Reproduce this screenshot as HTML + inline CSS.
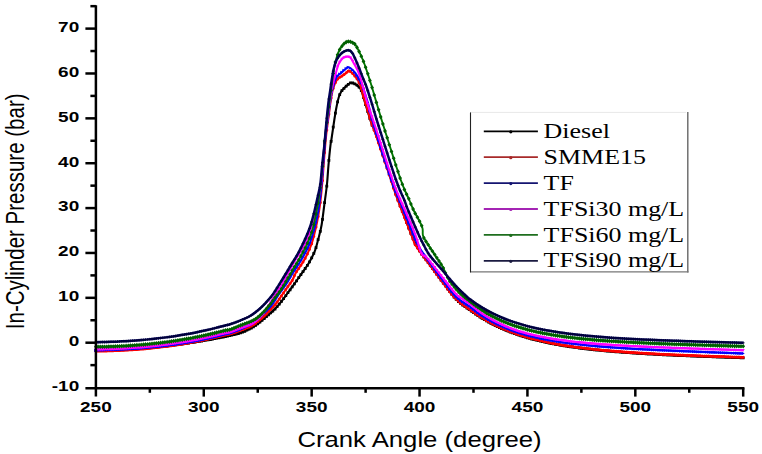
<!DOCTYPE html>
<html><head><meta charset="utf-8"><style>
html,body{margin:0;padding:0;background:#fff;}
body{width:762px;height:454px;overflow:hidden;position:relative;}
svg{position:absolute;left:0;top:0;}
</style></head><body>
<svg width="762" height="454" viewBox="0 0 762 454">
<rect width="762" height="454" fill="#fff"/>
<path d="M96.00,350.47 C97.67,350.44 102.67,350.38 106.00,350.29 C109.33,350.21 112.67,350.10 116.00,349.97 C119.33,349.83 122.67,349.67 126.00,349.49 C129.33,349.31 132.67,349.10 136.00,348.87 C139.33,348.63 142.67,348.38 146.00,348.09 C149.33,347.81 152.67,347.50 156.00,347.17 C159.33,346.83 162.67,346.47 166.00,346.09 C169.33,345.70 172.67,345.29 176.00,344.86 C179.33,344.42 182.67,343.96 186.00,343.47 C189.33,342.98 192.67,342.47 196.00,341.93 C199.33,341.39 202.67,340.83 206.00,340.23 C209.33,339.64 212.83,338.99 216.00,338.38 C219.17,337.77 221.00,337.47 225.00,336.58 C229.00,335.68 236.03,334.21 240.00,333.00 C243.97,331.79 245.87,330.80 248.80,329.30 C251.73,327.80 254.67,326.12 257.60,324.00 C260.53,321.88 263.47,319.13 266.40,316.60 C269.33,314.07 272.70,311.32 275.20,308.80 C277.70,306.28 279.43,303.97 281.40,301.50 C283.37,299.03 284.90,296.85 287.00,294.00 C289.10,291.15 291.80,287.47 294.00,284.40 C296.20,281.33 298.43,278.10 300.20,275.60 C301.97,273.10 303.03,271.72 304.60,269.40 C306.17,267.08 307.87,264.83 309.60,261.70 C311.33,258.57 313.52,254.52 315.00,250.60 C316.48,246.68 317.40,242.47 318.50,238.20 C319.60,233.93 320.63,230.53 321.60,225.00 C322.57,219.47 323.42,211.67 324.30,205.00 C325.18,198.33 326.20,191.67 326.90,185.00 C327.60,178.33 327.90,171.67 328.50,165.00 C329.10,158.33 330.00,149.33 330.50,145.00 C331.00,140.67 330.87,143.17 331.50,139.00 C332.13,134.83 333.47,125.33 334.30,120.00 C335.13,114.67 335.77,110.75 336.50,107.00 C337.23,103.25 337.90,100.08 338.70,97.50 C339.50,94.92 340.30,93.15 341.30,91.50 C342.30,89.85 343.58,88.75 344.70,87.60 C345.82,86.45 346.88,85.40 348.00,84.60 C349.12,83.80 349.95,82.73 351.40,82.80 C352.85,82.87 355.23,84.05 356.70,85.00 C358.17,85.95 359.28,87.17 360.20,88.50 C361.12,89.83 361.48,90.92 362.20,93.00 C362.92,95.08 362.95,95.92 364.50,101.00 C366.05,106.08 369.67,118.17 371.50,123.50 C373.33,128.83 372.37,124.08 375.50,133.00 C378.63,141.92 386.63,166.08 390.30,177.00 C393.97,187.92 393.72,188.25 397.50,198.50 C401.28,208.75 409.37,229.83 413.00,238.50 C416.63,247.17 417.22,247.08 419.30,250.50 C421.38,253.92 422.30,254.67 425.50,259.00 C428.70,263.33 434.12,270.62 438.50,276.50 C442.88,282.38 448.22,289.90 451.80,294.30 C455.38,298.70 456.97,300.27 460.00,302.90 C463.03,305.53 466.83,307.86 470.00,310.11 C473.17,312.36 476.00,314.45 479.00,316.39 C482.00,318.34 485.00,320.11 488.00,321.78 C491.00,323.45 494.00,324.98 497.00,326.41 C500.00,327.84 503.00,329.15 506.00,330.39 C509.00,331.62 512.00,332.75 515.00,333.81 C518.00,334.88 521.00,335.85 524.00,336.77 C527.00,337.68 530.00,338.52 533.00,339.32 C536.00,340.11 539.00,340.84 542.00,341.53 C545.00,342.21 548.00,342.85 551.00,343.44 C554.00,344.04 557.00,344.59 560.00,345.11 C563.00,345.63 566.00,346.11 569.00,346.57 C572.00,347.02 575.00,347.44 578.00,347.84 C581.00,348.24 584.00,348.61 587.00,348.97 C590.00,349.32 593.00,349.65 596.00,349.96 C599.00,350.27 602.00,350.56 605.00,350.84 C608.00,351.11 611.00,351.37 614.00,351.62 C617.00,351.87 620.00,352.10 623.00,352.32 C626.00,352.55 629.00,352.76 632.00,352.96 C635.00,353.16 638.00,353.35 641.00,353.53 C644.00,353.71 647.00,353.89 650.00,354.06 C653.00,354.22 656.00,354.38 659.00,354.54 C662.00,354.69 665.00,354.84 668.00,354.98 C671.00,355.13 674.00,355.26 677.00,355.40 C680.00,355.53 683.00,355.66 686.00,355.79 C689.00,355.91 692.00,356.03 695.00,356.15 C698.00,356.27 701.00,356.38 704.00,356.50 C707.00,356.61 710.00,356.72 713.00,356.83 C716.00,356.93 719.00,357.04 722.00,357.14 C725.00,357.25 728.00,357.35 731.00,357.45 C734.00,357.55 737.97,357.67 740.00,357.74 C742.03,357.81 742.67,357.83 743.20,357.84" fill="none" stroke="#000000" stroke-width="2.10" stroke-linejoin="round" stroke-linecap="butt"/>
<path d="M94.5,349.1h2.8v2.8h-2.8zM96.7,349.0h2.8v2.8h-2.8zM98.8,349.0h2.8v2.8h-2.8zM101.0,349.0h2.8v2.8h-2.8zM103.1,348.9h2.8v2.8h-2.8zM105.3,348.9h2.8v2.8h-2.8zM107.4,348.8h2.8v2.8h-2.8zM109.6,348.7h2.8v2.8h-2.8zM111.8,348.7h2.8v2.8h-2.8zM113.9,348.6h2.8v2.8h-2.8zM116.1,348.5h2.8v2.8h-2.8zM118.2,348.4h2.8v2.8h-2.8zM120.4,348.3h2.8v2.8h-2.8zM122.5,348.2h2.8v2.8h-2.8zM124.7,348.1h2.8v2.8h-2.8zM126.9,348.0h2.8v2.8h-2.8zM129.0,347.8h2.8v2.8h-2.8zM131.2,347.7h2.8v2.8h-2.8zM133.3,347.6h2.8v2.8h-2.8zM135.5,347.4h2.8v2.8h-2.8zM137.7,347.2h2.8v2.8h-2.8zM139.8,347.1h2.8v2.8h-2.8zM142.0,346.9h2.8v2.8h-2.8zM144.1,346.7h2.8v2.8h-2.8zM146.3,346.5h2.8v2.8h-2.8zM148.4,346.4h2.8v2.8h-2.8zM150.6,346.2h2.8v2.8h-2.8zM152.8,345.9h2.8v2.8h-2.8zM154.9,345.7h2.8v2.8h-2.8zM157.1,345.5h2.8v2.8h-2.8zM159.2,345.3h2.8v2.8h-2.8zM161.4,345.1h2.8v2.8h-2.8zM163.5,344.8h2.8v2.8h-2.8zM165.7,344.6h2.8v2.8h-2.8zM167.9,344.3h2.8v2.8h-2.8zM170.0,344.0h2.8v2.8h-2.8zM172.2,343.8h2.8v2.8h-2.8zM174.3,343.5h2.8v2.8h-2.8zM176.5,343.2h2.8v2.8h-2.8zM178.6,342.9h2.8v2.8h-2.8zM180.8,342.6h2.8v2.8h-2.8zM183.0,342.3h2.8v2.8h-2.8zM185.1,342.0h2.8v2.8h-2.8zM187.3,341.7h2.8v2.8h-2.8zM189.4,341.3h2.8v2.8h-2.8zM191.6,341.0h2.8v2.8h-2.8zM193.8,340.7h2.8v2.8h-2.8zM195.9,340.3h2.8v2.8h-2.8zM198.1,340.0h2.8v2.8h-2.8zM200.2,339.6h2.8v2.8h-2.8zM202.4,339.2h2.8v2.8h-2.8zM204.5,338.8h2.8v2.8h-2.8zM206.7,338.5h2.8v2.8h-2.8zM208.9,338.1h2.8v2.8h-2.8zM211.0,337.7h2.8v2.8h-2.8zM213.2,337.3h2.8v2.8h-2.8zM215.3,336.8h2.8v2.8h-2.8zM217.5,336.4h2.8v2.8h-2.8zM219.6,336.0h2.8v2.8h-2.8zM221.8,335.6h2.8v2.8h-2.8zM224.0,335.1h2.8v2.8h-2.8zM226.1,334.6h2.8v2.8h-2.8zM228.3,334.1h2.8v2.8h-2.8zM230.4,333.7h2.8v2.8h-2.8zM232.6,333.2h2.8v2.8h-2.8zM234.7,332.6h2.8v2.8h-2.8zM236.9,332.1h2.8v2.8h-2.8zM239.1,331.5h2.8v2.8h-2.8zM241.2,330.7h2.8v2.8h-2.8zM243.4,329.9h2.8v2.8h-2.8zM245.5,328.8h2.8v2.8h-2.8zM247.7,327.7h2.8v2.8h-2.8zM249.9,326.6h2.8v2.8h-2.8zM252.0,325.4h2.8v2.8h-2.8zM254.2,324.0h2.8v2.8h-2.8zM256.3,322.5h2.8v2.8h-2.8zM258.5,320.8h2.8v2.8h-2.8zM260.6,319.0h2.8v2.8h-2.8zM262.8,317.1h2.8v2.8h-2.8zM265.0,315.2h2.8v2.8h-2.8zM267.1,313.4h2.8v2.8h-2.8zM269.3,311.5h2.8v2.8h-2.8zM271.4,309.6h2.8v2.8h-2.8zM273.6,307.6h2.8v2.8h-2.8zM275.7,305.3h2.8v2.8h-2.8zM277.9,302.7h2.8v2.8h-2.8zM280.1,300.0h2.8v2.8h-2.8zM282.2,297.2h2.8v2.8h-2.8zM284.4,294.3h2.8v2.8h-2.8zM286.5,291.3h2.8v2.8h-2.8zM288.7,288.4h2.8v2.8h-2.8zM290.8,285.4h2.8v2.8h-2.8zM293.0,282.4h2.8v2.8h-2.8zM295.2,279.4h2.8v2.8h-2.8zM297.3,276.3h2.8v2.8h-2.8zM299.5,273.2h2.8v2.8h-2.8zM301.6,270.2h2.8v2.8h-2.8zM303.8,267.1h2.8v2.8h-2.8zM306.0,264.0h2.8v2.8h-2.8zM308.1,260.5h2.8v2.8h-2.8zM310.3,256.5h2.8v2.8h-2.8zM312.4,252.0h2.8v2.8h-2.8zM314.6,246.3h2.8v2.8h-2.8zM316.7,238.2h2.8v2.8h-2.8zM318.9,229.9h2.8v2.8h-2.8zM321.1,218.0h2.8v2.8h-2.8zM323.2,201.3h2.8v2.8h-2.8zM325.4,184.8h2.8v2.8h-2.8zM327.5,159.0h2.8v2.8h-2.8zM329.7,140.0h2.8v2.8h-2.8zM331.8,125.7h2.8v2.8h-2.8zM334.0,111.7h2.8v2.8h-2.8zM336.2,100.5h2.8v2.8h-2.8zM338.3,93.2h2.8v2.8h-2.8zM340.5,89.2h2.8v2.8h-2.8zM342.6,86.9h2.8v2.8h-2.8zM344.8,84.7h2.8v2.8h-2.8zM346.9,82.9h2.8v2.8h-2.8zM349.1,81.5h2.8v2.8h-2.8zM351.3,81.6h2.8v2.8h-2.8zM353.4,82.5h2.8v2.8h-2.8zM355.6,83.8h2.8v2.8h-2.8zM357.7,85.7h2.8v2.8h-2.8zM359.9,89.1h2.8v2.8h-2.8zM362.1,96.0h2.8v2.8h-2.8zM364.2,103.3h2.8v2.8h-2.8zM366.4,110.3h2.8v2.8h-2.8zM368.5,117.3h2.8v2.8h-2.8zM370.7,123.7h2.8v2.8h-2.8zM372.8,128.2h2.8v2.8h-2.8zM375.0,134.2h2.8v2.8h-2.8zM377.2,140.5h2.8v2.8h-2.8zM379.3,146.9h2.8v2.8h-2.8zM381.5,153.4h2.8v2.8h-2.8zM383.6,159.8h2.8v2.8h-2.8zM385.8,166.3h2.8v2.8h-2.8zM387.9,172.7h2.8v2.8h-2.8zM390.1,179.2h2.8v2.8h-2.8zM392.3,186.0h2.8v2.8h-2.8zM394.4,192.4h2.8v2.8h-2.8zM396.6,198.4h2.8v2.8h-2.8zM398.7,204.1h2.8v2.8h-2.8zM400.9,209.8h2.8v2.8h-2.8zM403.0,215.5h2.8v2.8h-2.8zM405.2,221.0h2.8v2.8h-2.8zM407.4,226.6h2.8v2.8h-2.8zM409.5,232.0h2.8v2.8h-2.8zM411.7,237.3h2.8v2.8h-2.8zM413.8,242.2h2.8v2.8h-2.8zM416.0,246.2h2.8v2.8h-2.8zM418.2,249.5h2.8v2.8h-2.8zM420.3,252.6h2.8v2.8h-2.8zM422.5,255.4h2.8v2.8h-2.8zM424.6,258.3h2.8v2.8h-2.8zM426.8,261.2h2.8v2.8h-2.8zM428.9,264.1h2.8v2.8h-2.8zM431.1,267.0h2.8v2.8h-2.8zM433.3,269.9h2.8v2.8h-2.8zM435.4,272.8h2.8v2.8h-2.8zM437.6,275.7h2.8v2.8h-2.8zM439.7,278.7h2.8v2.8h-2.8zM441.9,281.6h2.8v2.8h-2.8zM444.0,284.5h2.8v2.8h-2.8zM446.2,287.5h2.8v2.8h-2.8zM448.4,290.3h2.8v2.8h-2.8zM450.5,293.0h2.8v2.8h-2.8zM452.7,295.6h2.8v2.8h-2.8zM454.8,298.0h2.8v2.8h-2.8zM457.0,300.1h2.8v2.8h-2.8zM459.1,302.0h2.8v2.8h-2.8zM461.3,303.6h2.8v2.8h-2.8zM463.5,305.2h2.8v2.8h-2.8zM465.6,306.7h2.8v2.8h-2.8zM467.8,308.1h2.8v2.8h-2.8zM469.9,309.7h2.8v2.8h-2.8zM472.1,311.2h2.8v2.8h-2.8zM474.2,312.7h2.8v2.8h-2.8zM476.4,314.2h2.8v2.8h-2.8zM478.6,315.6h2.8v2.8h-2.8zM480.7,317.0h2.8v2.8h-2.8zM482.9,318.3h2.8v2.8h-2.8zM485.0,319.5h2.8v2.8h-2.8zM487.2,320.7h2.8v2.8h-2.8zM489.4,321.9h2.8v2.8h-2.8zM491.5,323.0h2.8v2.8h-2.8zM493.7,324.1h2.8v2.8h-2.8zM495.8,325.1h2.8v2.8h-2.8zM498.0,326.1h2.8v2.8h-2.8zM500.1,327.1h2.8v2.8h-2.8zM502.3,328.0h2.8v2.8h-2.8zM504.5,328.9h2.8v2.8h-2.8zM506.6,329.8h2.8v2.8h-2.8zM508.8,330.6h2.8v2.8h-2.8zM510.9,331.4h2.8v2.8h-2.8zM513.1,332.2h2.8v2.8h-2.8zM515.2,333.0h2.8v2.8h-2.8zM517.4,333.7h2.8v2.8h-2.8zM519.6,334.4h2.8v2.8h-2.8zM521.7,335.1h2.8v2.8h-2.8zM523.9,335.8h2.8v2.8h-2.8zM526.0,336.4h2.8v2.8h-2.8zM528.2,337.0h2.8v2.8h-2.8zM530.3,337.6h2.8v2.8h-2.8zM532.5,338.2h2.8v2.8h-2.8zM534.7,338.7h2.8v2.8h-2.8zM536.8,339.2h2.8v2.8h-2.8zM539.0,339.8h2.8v2.8h-2.8zM541.1,340.2h2.8v2.8h-2.8zM543.3,340.7h2.8v2.8h-2.8zM545.5,341.2h2.8v2.8h-2.8zM547.6,341.6h2.8v2.8h-2.8zM549.8,342.1h2.8v2.8h-2.8zM551.9,342.5h2.8v2.8h-2.8zM554.1,342.9h2.8v2.8h-2.8zM556.2,343.3h2.8v2.8h-2.8zM558.4,343.7h2.8v2.8h-2.8zM560.6,344.0h2.8v2.8h-2.8zM562.7,344.4h2.8v2.8h-2.8zM564.9,344.7h2.8v2.8h-2.8zM567.0,345.1h2.8v2.8h-2.8zM569.2,345.4h2.8v2.8h-2.8zM571.3,345.7h2.8v2.8h-2.8zM573.5,346.0h2.8v2.8h-2.8zM575.7,346.3h2.8v2.8h-2.8zM577.8,346.6h2.8v2.8h-2.8zM580.0,346.9h2.8v2.8h-2.8zM582.1,347.2h2.8v2.8h-2.8zM584.3,347.4h2.8v2.8h-2.8zM586.4,347.7h2.8v2.8h-2.8zM588.6,347.9h2.8v2.8h-2.8zM590.8,348.1h2.8v2.8h-2.8zM592.9,348.4h2.8v2.8h-2.8zM595.1,348.6h2.8v2.8h-2.8zM597.2,348.8h2.8v2.8h-2.8zM599.4,349.0h2.8v2.8h-2.8zM601.6,349.2h2.8v2.8h-2.8zM603.7,349.4h2.8v2.8h-2.8zM605.9,349.6h2.8v2.8h-2.8zM608.0,349.8h2.8v2.8h-2.8zM610.2,350.0h2.8v2.8h-2.8zM612.3,350.2h2.8v2.8h-2.8zM614.5,350.4h2.8v2.8h-2.8zM616.7,350.5h2.8v2.8h-2.8zM618.8,350.7h2.8v2.8h-2.8zM621.0,350.9h2.8v2.8h-2.8zM623.1,351.0h2.8v2.8h-2.8zM625.3,351.2h2.8v2.8h-2.8zM627.4,351.3h2.8v2.8h-2.8zM629.6,351.5h2.8v2.8h-2.8zM631.8,351.6h2.8v2.8h-2.8zM633.9,351.8h2.8v2.8h-2.8zM636.1,351.9h2.8v2.8h-2.8zM638.2,352.0h2.8v2.8h-2.8zM640.4,352.2h2.8v2.8h-2.8zM642.5,352.3h2.8v2.8h-2.8zM644.7,352.4h2.8v2.8h-2.8zM646.9,352.6h2.8v2.8h-2.8zM649.0,352.7h2.8v2.8h-2.8zM651.2,352.8h2.8v2.8h-2.8zM653.3,352.9h2.8v2.8h-2.8zM655.5,353.0h2.8v2.8h-2.8zM657.7,353.1h2.8v2.8h-2.8zM659.8,353.3h2.8v2.8h-2.8zM662.0,353.4h2.8v2.8h-2.8zM664.1,353.5h2.8v2.8h-2.8zM666.3,353.6h2.8v2.8h-2.8zM668.4,353.7h2.8v2.8h-2.8zM670.6,353.8h2.8v2.8h-2.8zM672.8,353.9h2.8v2.8h-2.8zM674.9,354.0h2.8v2.8h-2.8zM677.1,354.1h2.8v2.8h-2.8zM679.2,354.2h2.8v2.8h-2.8zM681.4,354.2h2.8v2.8h-2.8zM683.5,354.3h2.8v2.8h-2.8zM685.7,354.4h2.8v2.8h-2.8zM687.9,354.5h2.8v2.8h-2.8zM690.0,354.6h2.8v2.8h-2.8zM692.2,354.7h2.8v2.8h-2.8zM694.3,354.8h2.8v2.8h-2.8zM696.5,354.9h2.8v2.8h-2.8zM698.6,354.9h2.8v2.8h-2.8zM700.8,355.0h2.8v2.8h-2.8zM703.0,355.1h2.8v2.8h-2.8zM705.1,355.2h2.8v2.8h-2.8zM707.3,355.3h2.8v2.8h-2.8zM709.4,355.3h2.8v2.8h-2.8zM711.6,355.4h2.8v2.8h-2.8zM713.8,355.5h2.8v2.8h-2.8zM715.9,355.6h2.8v2.8h-2.8zM718.1,355.7h2.8v2.8h-2.8zM720.2,355.7h2.8v2.8h-2.8zM722.4,355.8h2.8v2.8h-2.8zM724.5,355.9h2.8v2.8h-2.8zM726.7,356.0h2.8v2.8h-2.8zM728.9,356.0h2.8v2.8h-2.8zM731.0,356.1h2.8v2.8h-2.8zM733.2,356.2h2.8v2.8h-2.8zM735.3,356.2h2.8v2.8h-2.8zM737.5,356.3h2.8v2.8h-2.8zM739.6,356.4h2.8v2.8h-2.8zM741.8,356.4h2.8v2.8h-2.8z" fill="#000000" stroke="none"/>
<path d="M96.00,351.11 C97.67,351.08 102.67,351.01 106.00,350.93 C109.33,350.84 112.67,350.73 116.00,350.60 C119.33,350.46 122.67,350.30 126.00,350.10 C129.33,349.91 132.67,349.69 136.00,349.45 C139.33,349.20 142.67,348.92 146.00,348.61 C149.33,348.31 152.67,347.97 156.00,347.60 C159.33,347.23 162.67,346.83 166.00,346.40 C169.33,345.96 172.67,345.50 176.00,345.00 C179.33,344.49 182.67,343.96 186.00,343.39 C189.33,342.82 192.67,342.21 196.00,341.57 C199.33,340.93 202.67,340.25 206.00,339.53 C209.33,338.82 212.83,338.02 216.00,337.27 C219.17,336.52 222.67,335.58 225.00,335.03 C227.33,334.49 227.50,334.76 230.00,334.00 C232.50,333.24 236.23,331.97 240.00,330.50 C243.77,329.03 249.27,327.02 252.60,325.20 C255.93,323.38 257.93,321.27 260.00,319.60 C262.07,317.93 263.33,316.80 265.00,315.20 C266.67,313.60 268.17,311.95 270.00,310.00 C271.83,308.05 274.00,306.00 276.00,303.50 C278.00,301.00 279.83,298.08 282.00,295.00 C284.17,291.92 287.25,287.50 289.00,285.00 C290.75,282.50 291.33,282.08 292.50,280.00 C293.67,277.92 294.05,275.83 296.00,272.50 C297.95,269.17 301.67,264.58 304.20,260.00 C306.73,255.42 309.35,250.00 311.20,245.00 C313.05,240.00 314.10,235.00 315.30,230.00 C316.50,225.00 317.52,220.00 318.40,215.00 C319.28,210.00 319.92,205.83 320.60,200.00 C321.28,194.17 321.93,186.67 322.50,180.00 C323.07,173.33 323.38,167.50 324.00,160.00 C324.62,152.50 325.40,142.50 326.20,135.00 C327.00,127.50 327.90,121.67 328.80,115.00 C329.70,108.33 330.73,99.83 331.60,95.00 C332.47,90.17 333.23,88.33 334.00,86.00 C334.77,83.67 335.50,82.28 336.20,81.00 C336.90,79.72 337.32,79.08 338.20,78.30 C339.08,77.52 340.37,77.05 341.50,76.30 C342.63,75.55 343.78,74.70 345.00,73.80 C346.22,72.90 347.63,71.03 348.80,70.90 C349.97,70.77 350.97,72.13 352.00,73.00 C353.03,73.87 354.00,74.85 355.00,76.10 C356.00,77.35 357.08,78.85 358.00,80.50 C358.92,82.15 359.67,83.58 360.50,86.00 C361.33,88.42 361.92,91.33 363.00,95.00 C364.08,98.67 365.55,103.20 367.00,108.00 C368.45,112.80 370.37,119.72 371.70,123.80 C373.03,127.88 371.98,123.75 375.00,132.50 C378.02,141.25 386.13,165.38 389.80,176.30 C393.47,187.22 393.20,187.72 397.00,198.00 C400.80,208.28 409.72,230.50 412.60,238.00 C415.48,245.50 413.27,241.00 414.30,243.00 C415.33,245.00 417.02,247.42 418.80,250.00 C420.58,252.58 421.80,254.17 425.00,258.50 C428.20,262.83 433.60,270.12 438.00,276.00 C442.40,281.88 447.73,289.40 451.40,293.80 C455.07,298.20 456.90,299.76 460.00,302.40 C463.10,305.04 466.83,307.38 470.00,309.63 C473.17,311.88 476.00,313.95 479.00,315.89 C482.00,317.83 485.00,319.60 488.00,321.27 C491.00,322.93 494.00,324.45 497.00,325.89 C500.00,327.32 503.00,328.63 506.00,329.86 C509.00,331.10 512.00,332.23 515.00,333.29 C518.00,334.35 521.00,335.33 524.00,336.25 C527.00,337.17 530.00,338.01 533.00,338.81 C536.00,339.60 539.00,340.33 542.00,341.02 C545.00,341.71 548.00,342.34 551.00,342.94 C554.00,343.54 557.00,344.10 560.00,344.62 C563.00,345.14 566.00,345.62 569.00,346.08 C572.00,346.54 575.00,346.96 578.00,347.36 C581.00,347.76 584.00,348.13 587.00,348.48 C590.00,348.84 593.00,349.17 596.00,349.48 C599.00,349.79 602.00,350.08 605.00,350.36 C608.00,350.63 611.00,350.89 614.00,351.14 C617.00,351.39 620.00,351.62 623.00,351.84 C626.00,352.06 629.00,352.27 632.00,352.47 C635.00,352.67 638.00,352.86 641.00,353.05 C644.00,353.23 647.00,353.40 650.00,353.57 C653.00,353.73 656.00,353.89 659.00,354.04 C662.00,354.19 665.00,354.34 668.00,354.48 C671.00,354.62 674.00,354.76 677.00,354.89 C680.00,355.02 683.00,355.15 686.00,355.27 C689.00,355.39 692.00,355.51 695.00,355.63 C698.00,355.74 701.00,355.85 704.00,355.96 C707.00,356.07 710.00,356.18 713.00,356.28 C716.00,356.39 719.00,356.49 722.00,356.59 C725.00,356.69 728.00,356.79 731.00,356.88 C734.00,356.98 737.97,357.10 740.00,357.17 C742.03,357.23 742.67,357.25 743.20,357.27" fill="none" stroke="#ff0000" stroke-width="2.10" stroke-linejoin="round" stroke-linecap="butt"/>
<path d="M95.9,351.1h0.01M98.1,351.1h0.01M100.2,351.0h0.01M102.4,351.0h0.01M104.5,351.0h0.01M106.7,350.9h0.01M108.8,350.8h0.01M111.0,350.8h0.01M113.2,350.7h0.01M115.3,350.6h0.01M117.5,350.5h0.01M119.6,350.4h0.01M121.8,350.3h0.01M123.9,350.2h0.01M126.1,350.1h0.01M128.3,350.0h0.01M130.4,349.8h0.01M132.6,349.7h0.01M134.7,349.5h0.01M136.9,349.4h0.01M139.1,349.2h0.01M141.2,349.0h0.01M143.4,348.9h0.01M145.5,348.7h0.01M147.7,348.5h0.01M149.8,348.2h0.01M152.0,348.0h0.01M154.2,347.8h0.01M156.3,347.6h0.01M158.5,347.3h0.01M160.6,347.1h0.01M162.8,346.8h0.01M164.9,346.5h0.01M167.1,346.3h0.01M169.3,346.0h0.01M171.4,345.7h0.01M173.6,345.4h0.01M175.7,345.0h0.01M177.9,344.7h0.01M180.0,344.4h0.01M182.2,344.0h0.01M184.4,343.7h0.01M186.5,343.3h0.01M188.7,342.9h0.01M190.8,342.5h0.01M193.0,342.1h0.01M195.2,341.7h0.01M197.3,341.3h0.01M199.5,340.9h0.01M201.6,340.5h0.01M203.8,340.0h0.01M205.9,339.5h0.01M208.1,339.1h0.01M210.3,338.6h0.01M212.4,338.1h0.01M214.6,337.6h0.01M216.7,337.1h0.01M218.9,336.6h0.01M221.0,336.0h0.01M223.2,335.5h0.01M225.4,334.9h0.01M227.5,334.6h0.01M229.7,334.1h0.01M231.8,333.4h0.01M234.0,332.7h0.01M236.1,331.9h0.01M238.3,331.1h0.01M240.5,330.3h0.01M242.6,329.5h0.01M244.8,328.7h0.01M246.9,327.8h0.01M249.1,326.9h0.01M251.3,325.9h0.01M253.4,324.7h0.01M255.6,323.3h0.01M257.7,321.5h0.01M259.9,319.7h0.01M262.0,317.9h0.01M264.2,316.0h0.01M266.4,313.9h0.01M268.5,311.6h0.01M270.7,309.3h0.01M272.8,307.1h0.01M275.0,304.7h0.01M277.1,302.0h0.01M279.3,298.9h0.01M281.5,295.8h0.01M283.6,292.7h0.01M285.8,289.6h0.01M287.9,286.5h0.01M290.1,283.5h0.01M292.2,280.4h0.01M294.4,275.6h0.01M296.6,271.6h0.01M298.7,268.4h0.01M300.9,265.3h0.01M303.0,262.0h0.01M305.2,258.2h0.01M307.4,253.9h0.01M309.5,249.2h0.01M311.7,243.7h0.01M313.8,236.2h0.01M316.0,227.1h0.01M318.1,216.5h0.01M320.3,202.5h0.01M322.5,180.5h0.01M324.6,152.5h0.01M326.8,130.0h0.01M328.9,114.0h0.01M331.1,98.1h0.01M333.2,88.3h0.01M335.4,82.5h0.01M337.6,78.9h0.01M339.7,77.3h0.01M341.9,76.0h0.01M344.0,74.5h0.01M346.2,72.8h0.01M348.3,71.0h0.01M350.5,71.6h0.01M352.7,73.6h0.01M354.8,75.9h0.01M357.0,78.8h0.01M359.1,82.7h0.01M361.3,88.6h0.01M363.5,96.5h0.01M365.6,103.5h0.01M367.8,110.6h0.01M369.9,118.0h0.01M372.1,124.9h0.01M374.2,130.3h0.01M376.4,136.6h0.01M378.6,142.9h0.01M380.7,149.3h0.01M382.9,155.7h0.01M385.0,162.1h0.01M387.2,168.5h0.01M389.3,174.9h0.01M391.5,181.5h0.01M393.7,188.4h0.01M395.8,194.7h0.01M398.0,200.6h0.01M400.1,206.2h0.01M402.3,211.8h0.01M404.4,217.3h0.01M406.6,222.7h0.01M408.8,228.2h0.01M410.9,233.7h0.01M413.1,239.3h0.01M415.2,244.7h0.01M417.4,248.0h0.01M419.6,251.1h0.01M421.7,254.1h0.01M423.9,257.0h0.01M426.0,259.9h0.01M428.2,262.8h0.01M430.3,265.7h0.01M432.5,268.6h0.01M434.7,271.5h0.01M436.8,274.4h0.01M439.0,277.3h0.01M441.1,280.2h0.01M443.3,283.2h0.01M445.4,286.1h0.01M447.6,289.0h0.01M449.8,291.8h0.01M451.9,294.4h0.01M454.1,296.9h0.01M456.2,299.1h0.01M458.4,301.0h0.01M460.5,302.9h0.01M462.7,304.5h0.01M464.9,306.1h0.01M467.0,307.6h0.01M469.2,309.1h0.01M471.3,310.6h0.01M473.5,312.1h0.01M475.6,313.6h0.01M477.8,315.1h0.01M480.0,316.5h0.01M482.1,317.8h0.01M484.3,319.1h0.01M486.4,320.4h0.01M488.6,321.6h0.01M490.8,322.8h0.01M492.9,323.9h0.01M495.1,325.0h0.01M497.2,326.0h0.01M499.4,327.0h0.01M501.5,328.0h0.01M503.7,328.9h0.01M505.9,329.8h0.01M508.0,330.7h0.01M510.2,331.5h0.01M512.3,332.3h0.01M514.5,333.1h0.01M516.6,333.9h0.01M518.8,334.6h0.01M521.0,335.3h0.01M523.1,336.0h0.01M525.3,336.6h0.01M527.4,337.3h0.01M529.6,337.9h0.01M531.7,338.5h0.01M533.9,339.0h0.01M536.1,339.6h0.01M538.2,340.1h0.01M540.4,340.6h0.01M542.5,341.1h0.01M544.7,341.6h0.01M546.9,342.1h0.01M549.0,342.5h0.01M551.2,343.0h0.01M553.3,343.4h0.01M555.5,343.8h0.01M557.6,344.2h0.01M559.8,344.6h0.01M562.0,345.0h0.01M564.1,345.3h0.01M566.3,345.7h0.01M568.4,346.0h0.01M570.6,346.3h0.01M572.7,346.6h0.01M574.9,346.9h0.01M577.1,347.2h0.01M579.2,347.5h0.01M581.4,347.8h0.01M583.5,348.1h0.01M585.7,348.3h0.01M587.8,348.6h0.01M590.0,348.8h0.01M592.2,349.1h0.01M594.3,349.3h0.01M596.5,349.5h0.01M598.6,349.7h0.01M600.8,350.0h0.01M603.0,350.2h0.01M605.1,350.4h0.01M607.3,350.6h0.01M609.4,350.8h0.01M611.6,350.9h0.01M613.7,351.1h0.01M615.9,351.3h0.01M618.1,351.5h0.01M620.2,351.6h0.01M622.4,351.8h0.01M624.5,352.0h0.01M626.7,352.1h0.01M628.8,352.3h0.01M631.0,352.4h0.01M633.2,352.6h0.01M635.3,352.7h0.01M637.5,352.8h0.01M639.6,353.0h0.01M641.8,353.1h0.01M643.9,353.2h0.01M646.1,353.3h0.01M648.3,353.5h0.01M650.4,353.6h0.01M652.6,353.7h0.01M654.7,353.8h0.01M656.9,353.9h0.01M659.1,354.0h0.01M661.2,354.2h0.01M663.4,354.3h0.01M665.5,354.4h0.01M667.7,354.5h0.01M669.8,354.6h0.01M672.0,354.7h0.01M674.2,354.8h0.01M676.3,354.9h0.01M678.5,355.0h0.01M680.6,355.0h0.01M682.8,355.1h0.01M684.9,355.2h0.01M687.1,355.3h0.01M689.3,355.4h0.01M691.4,355.5h0.01M693.6,355.6h0.01M695.7,355.7h0.01M697.9,355.7h0.01M700.0,355.8h0.01M702.2,355.9h0.01M704.4,356.0h0.01M706.5,356.1h0.01M708.7,356.1h0.01M710.8,356.2h0.01M713.0,356.3h0.01M715.2,356.4h0.01M717.3,356.4h0.01M719.5,356.5h0.01M721.6,356.6h0.01M723.8,356.6h0.01M725.9,356.7h0.01M728.1,356.8h0.01M730.3,356.9h0.01M732.4,356.9h0.01M734.6,357.0h0.01M736.7,357.1h0.01M738.9,357.1h0.01M741.0,357.2h0.01M743.2,357.3h0.01" fill="none" stroke="#ff0000" stroke-width="3.00" stroke-linecap="round"/>
<path d="M96.00,350.32 C97.67,350.28 102.67,350.17 106.00,350.07 C109.33,349.96 112.67,349.84 116.00,349.70 C119.33,349.56 122.67,349.40 126.00,349.21 C129.33,349.02 132.67,348.82 136.00,348.58 C139.33,348.34 142.67,348.09 146.00,347.80 C149.33,347.50 152.67,347.19 156.00,346.84 C159.33,346.49 162.67,346.11 166.00,345.70 C169.33,345.28 172.67,344.83 176.00,344.35 C179.33,343.86 182.67,343.35 186.00,342.79 C189.33,342.23 192.67,341.63 196.00,340.99 C199.33,340.35 202.67,339.67 206.00,338.94 C209.33,338.22 212.83,337.40 216.00,336.63 C219.17,335.86 222.67,334.89 225.00,334.31 C227.33,333.74 227.50,333.99 230.00,333.20 C232.50,332.41 236.23,331.20 240.00,329.60 C243.77,328.00 249.27,325.62 252.60,323.60 C255.93,321.58 257.77,319.55 260.00,317.50 C262.23,315.45 264.00,313.42 266.00,311.30 C268.00,309.18 269.83,307.68 272.00,304.80 C274.17,301.92 276.57,297.55 279.00,294.00 C281.43,290.45 284.18,287.17 286.60,283.50 C289.02,279.83 291.02,276.00 293.50,272.00 C295.98,268.00 298.92,264.00 301.50,259.50 C304.08,255.00 306.92,249.92 309.00,245.00 C311.08,240.08 312.58,235.00 314.00,230.00 C315.42,225.00 316.53,220.00 317.50,215.00 C318.47,210.00 319.05,205.83 319.80,200.00 C320.55,194.17 321.37,186.67 322.00,180.00 C322.63,173.33 322.98,167.50 323.60,160.00 C324.22,152.50 324.90,142.50 325.70,135.00 C326.50,127.50 327.48,121.67 328.40,115.00 C329.32,108.33 330.30,100.17 331.20,95.00 C332.10,89.83 333.00,86.83 333.80,84.00 C334.60,81.17 335.27,79.45 336.00,78.00 C336.73,76.55 337.28,76.20 338.20,75.30 C339.12,74.40 340.37,73.57 341.50,72.60 C342.63,71.63 343.87,70.38 345.00,69.50 C346.13,68.62 347.22,67.38 348.30,67.30 C349.38,67.22 350.38,68.12 351.50,69.00 C352.62,69.88 353.83,71.10 355.00,72.60 C356.17,74.10 357.33,76.02 358.50,78.00 C359.67,79.98 361.00,82.17 362.00,84.50 C363.00,86.83 363.42,88.58 364.50,92.00 C365.58,95.42 366.95,99.50 368.50,105.00 C370.05,110.50 369.97,112.50 373.80,125.00 C377.63,137.50 387.22,167.50 391.50,180.00 C395.78,192.50 395.62,190.33 399.50,200.00 C403.38,209.67 411.83,230.83 414.80,238.00 C417.77,245.17 416.28,241.00 417.30,243.00 C418.32,245.00 419.53,247.75 420.90,250.00 C422.27,252.25 422.32,252.12 425.50,256.50 C428.68,260.88 435.42,270.18 440.00,276.30 C444.58,282.42 449.67,289.25 453.00,293.20 C456.33,297.15 457.17,297.75 460.00,300.00 C462.83,302.25 466.83,304.46 470.00,306.73 C473.17,308.99 476.00,311.49 479.00,313.59 C482.00,315.69 485.00,317.57 488.00,319.32 C491.00,321.07 494.00,322.64 497.00,324.10 C500.00,325.57 503.00,326.88 506.00,328.11 C509.00,329.34 512.00,330.44 515.00,331.47 C518.00,332.50 521.00,333.43 524.00,334.30 C527.00,335.17 530.00,335.96 533.00,336.69 C536.00,337.43 539.00,338.09 542.00,338.72 C545.00,339.35 548.00,339.91 551.00,340.45 C554.00,340.98 557.00,341.47 560.00,341.92 C563.00,342.38 566.00,342.80 569.00,343.20 C572.00,343.59 575.00,343.96 578.00,344.30 C581.00,344.64 584.00,344.96 587.00,345.26 C590.00,345.56 593.00,345.84 596.00,346.11 C599.00,346.38 602.00,346.62 605.00,346.86 C608.00,347.10 611.00,347.32 614.00,347.53 C617.00,347.74 620.00,347.95 623.00,348.14 C626.00,348.33 629.00,348.51 632.00,348.69 C635.00,348.87 638.00,349.04 641.00,349.20 C644.00,349.36 647.00,349.52 650.00,349.67 C653.00,349.82 656.00,349.97 659.00,350.11 C662.00,350.25 665.00,350.39 668.00,350.52 C671.00,350.66 674.00,350.79 677.00,350.92 C680.00,351.05 683.00,351.17 686.00,351.29 C689.00,351.42 692.00,351.54 695.00,351.66 C698.00,351.78 701.00,351.89 704.00,352.01 C707.00,352.12 710.00,352.24 713.00,352.35 C716.00,352.46 719.00,352.57 722.00,352.68 C725.00,352.79 728.00,352.90 731.00,353.01 C734.00,353.11 737.97,353.26 740.00,353.33 C742.03,353.40 742.67,353.42 743.20,353.44" fill="none" stroke="#0000ff" stroke-width="2.10" stroke-linejoin="round" stroke-linecap="butt"/>
<path d="M94.3,348.7l3.2,1.6l-3.2,1.6zM96.5,348.7l3.2,1.6l-3.2,1.6zM98.6,348.6l3.2,1.6l-3.2,1.6zM100.8,348.6l3.2,1.6l-3.2,1.6zM102.9,348.5l3.2,1.6l-3.2,1.6zM105.1,348.4l3.2,1.6l-3.2,1.6zM107.2,348.4l3.2,1.6l-3.2,1.6zM109.4,348.3l3.2,1.6l-3.2,1.6zM111.6,348.2l3.2,1.6l-3.2,1.6zM113.7,348.1l3.2,1.6l-3.2,1.6zM115.9,348.0l3.2,1.6l-3.2,1.6zM118.0,347.9l3.2,1.6l-3.2,1.6zM120.2,347.8l3.2,1.6l-3.2,1.6zM122.3,347.7l3.2,1.6l-3.2,1.6zM124.5,347.6l3.2,1.6l-3.2,1.6zM126.7,347.5l3.2,1.6l-3.2,1.6zM128.8,347.4l3.2,1.6l-3.2,1.6zM131.0,347.2l3.2,1.6l-3.2,1.6zM133.1,347.1l3.2,1.6l-3.2,1.6zM135.3,346.9l3.2,1.6l-3.2,1.6zM137.5,346.8l3.2,1.6l-3.2,1.6zM139.6,346.6l3.2,1.6l-3.2,1.6zM141.8,346.4l3.2,1.6l-3.2,1.6zM143.9,346.2l3.2,1.6l-3.2,1.6zM146.1,346.0l3.2,1.6l-3.2,1.6zM148.2,345.8l3.2,1.6l-3.2,1.6zM150.4,345.6l3.2,1.6l-3.2,1.6zM152.6,345.4l3.2,1.6l-3.2,1.6zM154.7,345.2l3.2,1.6l-3.2,1.6zM156.9,345.0l3.2,1.6l-3.2,1.6zM159.0,344.7l3.2,1.6l-3.2,1.6zM161.2,344.5l3.2,1.6l-3.2,1.6zM163.3,344.2l3.2,1.6l-3.2,1.6zM165.5,344.0l3.2,1.6l-3.2,1.6zM167.7,343.7l3.2,1.6l-3.2,1.6zM169.8,343.4l3.2,1.6l-3.2,1.6zM172.0,343.1l3.2,1.6l-3.2,1.6zM174.1,342.8l3.2,1.6l-3.2,1.6zM176.3,342.5l3.2,1.6l-3.2,1.6zM178.4,342.1l3.2,1.6l-3.2,1.6zM180.6,341.8l3.2,1.6l-3.2,1.6zM182.8,341.5l3.2,1.6l-3.2,1.6zM184.9,341.1l3.2,1.6l-3.2,1.6zM187.1,340.7l3.2,1.6l-3.2,1.6zM189.2,340.3l3.2,1.6l-3.2,1.6zM191.4,340.0l3.2,1.6l-3.2,1.6zM193.6,339.6l3.2,1.6l-3.2,1.6zM195.7,339.1l3.2,1.6l-3.2,1.6zM197.9,338.7l3.2,1.6l-3.2,1.6zM200.0,338.3l3.2,1.6l-3.2,1.6zM202.2,337.8l3.2,1.6l-3.2,1.6zM204.3,337.4l3.2,1.6l-3.2,1.6zM206.5,336.9l3.2,1.6l-3.2,1.6zM208.7,336.4l3.2,1.6l-3.2,1.6zM210.8,335.9l3.2,1.6l-3.2,1.6zM213.0,335.4l3.2,1.6l-3.2,1.6zM215.1,334.9l3.2,1.6l-3.2,1.6zM217.3,334.3l3.2,1.6l-3.2,1.6zM219.4,333.7l3.2,1.6l-3.2,1.6zM221.6,333.2l3.2,1.6l-3.2,1.6zM223.8,332.6l3.2,1.6l-3.2,1.6zM225.9,332.2l3.2,1.6l-3.2,1.6zM228.1,331.7l3.2,1.6l-3.2,1.6zM230.2,331.0l3.2,1.6l-3.2,1.6zM232.4,330.3l3.2,1.6l-3.2,1.6zM234.5,329.5l3.2,1.6l-3.2,1.6zM236.7,328.7l3.2,1.6l-3.2,1.6zM238.9,327.8l3.2,1.6l-3.2,1.6zM241.0,326.9l3.2,1.6l-3.2,1.6zM243.2,325.9l3.2,1.6l-3.2,1.6zM245.3,324.9l3.2,1.6l-3.2,1.6zM247.5,323.9l3.2,1.6l-3.2,1.6zM249.7,322.8l3.2,1.6l-3.2,1.6zM251.8,321.5l3.2,1.6l-3.2,1.6zM254.0,319.9l3.2,1.6l-3.2,1.6zM256.1,318.0l3.2,1.6l-3.2,1.6zM258.3,316.0l3.2,1.6l-3.2,1.6zM260.4,313.9l3.2,1.6l-3.2,1.6zM262.6,311.6l3.2,1.6l-3.2,1.6zM264.8,309.3l3.2,1.6l-3.2,1.6zM266.9,307.2l3.2,1.6l-3.2,1.6zM269.1,304.9l3.2,1.6l-3.2,1.6zM271.2,302.0l3.2,1.6l-3.2,1.6zM273.4,298.7l3.2,1.6l-3.2,1.6zM275.5,295.2l3.2,1.6l-3.2,1.6zM277.7,292.0l3.2,1.6l-3.2,1.6zM279.9,289.0l3.2,1.6l-3.2,1.6zM282.0,286.1l3.2,1.6l-3.2,1.6zM284.2,283.1l3.2,1.6l-3.2,1.6zM286.3,279.8l3.2,1.6l-3.2,1.6zM288.5,276.2l3.2,1.6l-3.2,1.6zM290.6,272.5l3.2,1.6l-3.2,1.6zM292.8,269.0l3.2,1.6l-3.2,1.6zM295.0,265.7l3.2,1.6l-3.2,1.6zM297.1,262.4l3.2,1.6l-3.2,1.6zM299.3,259.0l3.2,1.6l-3.2,1.6zM301.4,255.2l3.2,1.6l-3.2,1.6zM303.6,251.3l3.2,1.6l-3.2,1.6zM305.8,247.0l3.2,1.6l-3.2,1.6zM307.9,242.2l3.2,1.6l-3.2,1.6zM310.1,236.2l3.2,1.6l-3.2,1.6zM312.2,229.0l3.2,1.6l-3.2,1.6zM314.4,220.6l3.2,1.6l-3.2,1.6zM316.5,209.9l3.2,1.6l-3.2,1.6zM318.7,194.4l3.2,1.6l-3.2,1.6zM320.9,173.2l3.2,1.6l-3.2,1.6zM323.0,145.5l3.2,1.6l-3.2,1.6zM325.2,124.8l3.2,1.6l-3.2,1.6zM327.3,109.5l3.2,1.6l-3.2,1.6zM329.5,94.1l3.2,1.6l-3.2,1.6zM331.6,84.4l3.2,1.6l-3.2,1.6zM333.8,77.7l3.2,1.6l-3.2,1.6zM336.0,74.3l3.2,1.6l-3.2,1.6zM338.1,72.4l3.2,1.6l-3.2,1.6zM340.3,70.7l3.2,1.6l-3.2,1.6zM342.4,68.7l3.2,1.6l-3.2,1.6zM344.6,66.9l3.2,1.6l-3.2,1.6zM346.7,65.7l3.2,1.6l-3.2,1.6zM348.9,66.6l3.2,1.6l-3.2,1.6zM351.1,68.4l3.2,1.6l-3.2,1.6zM353.2,70.8l3.2,1.6l-3.2,1.6zM355.4,73.9l3.2,1.6l-3.2,1.6zM357.5,77.5l3.2,1.6l-3.2,1.6zM359.7,81.4l3.2,1.6l-3.2,1.6zM361.9,87.0l3.2,1.6l-3.2,1.6zM364.0,93.9l3.2,1.6l-3.2,1.6zM366.2,100.9l3.2,1.6l-3.2,1.6zM368.3,109.2l3.2,1.6l-3.2,1.6zM370.5,117.6l3.2,1.6l-3.2,1.6zM372.6,124.8l3.2,1.6l-3.2,1.6zM374.8,131.7l3.2,1.6l-3.2,1.6zM377.0,138.6l3.2,1.6l-3.2,1.6zM379.1,145.4l3.2,1.6l-3.2,1.6zM381.3,152.1l3.2,1.6l-3.2,1.6zM383.4,158.8l3.2,1.6l-3.2,1.6zM385.6,165.4l3.2,1.6l-3.2,1.6zM387.7,172.0l3.2,1.6l-3.2,1.6zM389.9,178.4l3.2,1.6l-3.2,1.6zM392.1,184.5l3.2,1.6l-3.2,1.6zM394.2,189.8l3.2,1.6l-3.2,1.6zM396.4,194.7l3.2,1.6l-3.2,1.6zM398.5,200.0l3.2,1.6l-3.2,1.6zM400.7,205.4l3.2,1.6l-3.2,1.6zM402.8,210.7l3.2,1.6l-3.2,1.6zM405.0,216.1l3.2,1.6l-3.2,1.6zM407.2,221.5l3.2,1.6l-3.2,1.6zM409.3,226.9l3.2,1.6l-3.2,1.6zM411.5,232.2l3.2,1.6l-3.2,1.6zM413.6,237.4l3.2,1.6l-3.2,1.6zM415.8,241.6l3.2,1.6l-3.2,1.6zM418.0,246.0l3.2,1.6l-3.2,1.6zM420.1,249.7l3.2,1.6l-3.2,1.6zM422.3,252.7l3.2,1.6l-3.2,1.6zM424.4,255.6l3.2,1.6l-3.2,1.6zM426.6,258.6l3.2,1.6l-3.2,1.6zM428.7,261.6l3.2,1.6l-3.2,1.6zM430.9,264.5l3.2,1.6l-3.2,1.6zM433.1,267.5l3.2,1.6l-3.2,1.6zM435.2,270.4l3.2,1.6l-3.2,1.6zM437.4,273.3l3.2,1.6l-3.2,1.6zM439.5,276.2l3.2,1.6l-3.2,1.6zM441.7,279.1l3.2,1.6l-3.2,1.6zM443.8,281.9l3.2,1.6l-3.2,1.6zM446.0,284.8l3.2,1.6l-3.2,1.6zM448.2,287.6l3.2,1.6l-3.2,1.6zM450.3,290.3l3.2,1.6l-3.2,1.6zM452.5,292.9l3.2,1.6l-3.2,1.6zM454.6,295.2l3.2,1.6l-3.2,1.6zM456.8,297.1l3.2,1.6l-3.2,1.6zM458.9,298.8l3.2,1.6l-3.2,1.6zM461.1,300.3l3.2,1.6l-3.2,1.6zM463.3,301.7l3.2,1.6l-3.2,1.6zM465.4,303.1l3.2,1.6l-3.2,1.6zM467.6,304.5l3.2,1.6l-3.2,1.6zM469.7,306.1l3.2,1.6l-3.2,1.6zM471.9,307.8l3.2,1.6l-3.2,1.6zM474.0,309.5l3.2,1.6l-3.2,1.6zM476.2,311.1l3.2,1.6l-3.2,1.6zM478.4,312.7l3.2,1.6l-3.2,1.6zM480.5,314.1l3.2,1.6l-3.2,1.6zM482.7,315.5l3.2,1.6l-3.2,1.6zM484.8,316.8l3.2,1.6l-3.2,1.6zM487.0,318.1l3.2,1.6l-3.2,1.6zM489.2,319.3l3.2,1.6l-3.2,1.6zM491.3,320.4l3.2,1.6l-3.2,1.6zM493.5,321.5l3.2,1.6l-3.2,1.6zM495.6,322.6l3.2,1.6l-3.2,1.6zM497.8,323.6l3.2,1.6l-3.2,1.6zM499.9,324.6l3.2,1.6l-3.2,1.6zM502.1,325.6l3.2,1.6l-3.2,1.6zM504.3,326.5l3.2,1.6l-3.2,1.6zM506.4,327.3l3.2,1.6l-3.2,1.6zM508.6,328.1l3.2,1.6l-3.2,1.6zM510.7,328.9l3.2,1.6l-3.2,1.6zM512.9,329.7l3.2,1.6l-3.2,1.6zM515.0,330.4l3.2,1.6l-3.2,1.6zM517.2,331.1l3.2,1.6l-3.2,1.6zM519.4,331.8l3.2,1.6l-3.2,1.6zM521.5,332.4l3.2,1.6l-3.2,1.6zM523.7,333.1l3.2,1.6l-3.2,1.6zM525.8,333.7l3.2,1.6l-3.2,1.6zM528.0,334.2l3.2,1.6l-3.2,1.6zM530.1,334.8l3.2,1.6l-3.2,1.6zM532.3,335.3l3.2,1.6l-3.2,1.6zM534.5,335.8l3.2,1.6l-3.2,1.6zM536.6,336.3l3.2,1.6l-3.2,1.6zM538.8,336.8l3.2,1.6l-3.2,1.6zM540.9,337.2l3.2,1.6l-3.2,1.6zM543.1,337.7l3.2,1.6l-3.2,1.6zM545.3,338.1l3.2,1.6l-3.2,1.6zM547.4,338.5l3.2,1.6l-3.2,1.6zM549.6,338.9l3.2,1.6l-3.2,1.6zM551.7,339.3l3.2,1.6l-3.2,1.6zM553.9,339.6l3.2,1.6l-3.2,1.6zM556.0,340.0l3.2,1.6l-3.2,1.6zM558.2,340.3l3.2,1.6l-3.2,1.6zM560.4,340.6l3.2,1.6l-3.2,1.6zM562.5,340.9l3.2,1.6l-3.2,1.6zM564.7,341.2l3.2,1.6l-3.2,1.6zM566.8,341.5l3.2,1.6l-3.2,1.6zM569.0,341.8l3.2,1.6l-3.2,1.6zM571.1,342.1l3.2,1.6l-3.2,1.6zM573.3,342.3l3.2,1.6l-3.2,1.6zM575.5,342.6l3.2,1.6l-3.2,1.6zM577.6,342.8l3.2,1.6l-3.2,1.6zM579.8,343.1l3.2,1.6l-3.2,1.6zM581.9,343.3l3.2,1.6l-3.2,1.6zM584.1,343.5l3.2,1.6l-3.2,1.6zM586.2,343.7l3.2,1.6l-3.2,1.6zM588.4,344.0l3.2,1.6l-3.2,1.6zM590.6,344.2l3.2,1.6l-3.2,1.6zM592.7,344.4l3.2,1.6l-3.2,1.6zM594.9,344.6l3.2,1.6l-3.2,1.6zM597.0,344.7l3.2,1.6l-3.2,1.6zM599.2,344.9l3.2,1.6l-3.2,1.6zM601.4,345.1l3.2,1.6l-3.2,1.6zM603.5,345.3l3.2,1.6l-3.2,1.6zM605.7,345.4l3.2,1.6l-3.2,1.6zM607.8,345.6l3.2,1.6l-3.2,1.6zM610.0,345.8l3.2,1.6l-3.2,1.6zM612.1,345.9l3.2,1.6l-3.2,1.6zM614.3,346.1l3.2,1.6l-3.2,1.6zM616.5,346.2l3.2,1.6l-3.2,1.6zM618.6,346.4l3.2,1.6l-3.2,1.6zM620.8,346.5l3.2,1.6l-3.2,1.6zM622.9,346.6l3.2,1.6l-3.2,1.6zM625.1,346.8l3.2,1.6l-3.2,1.6zM627.2,346.9l3.2,1.6l-3.2,1.6zM629.4,347.0l3.2,1.6l-3.2,1.6zM631.6,347.2l3.2,1.6l-3.2,1.6zM633.7,347.3l3.2,1.6l-3.2,1.6zM635.9,347.4l3.2,1.6l-3.2,1.6zM638.0,347.5l3.2,1.6l-3.2,1.6zM640.2,347.6l3.2,1.6l-3.2,1.6zM642.3,347.8l3.2,1.6l-3.2,1.6zM644.5,347.9l3.2,1.6l-3.2,1.6zM646.7,348.0l3.2,1.6l-3.2,1.6zM648.8,348.1l3.2,1.6l-3.2,1.6zM651.0,348.2l3.2,1.6l-3.2,1.6zM653.1,348.3l3.2,1.6l-3.2,1.6zM655.3,348.4l3.2,1.6l-3.2,1.6zM657.5,348.5l3.2,1.6l-3.2,1.6zM659.6,348.6l3.2,1.6l-3.2,1.6zM661.8,348.7l3.2,1.6l-3.2,1.6zM663.9,348.8l3.2,1.6l-3.2,1.6zM666.1,348.9l3.2,1.6l-3.2,1.6zM668.2,349.0l3.2,1.6l-3.2,1.6zM670.4,349.1l3.2,1.6l-3.2,1.6zM672.6,349.2l3.2,1.6l-3.2,1.6zM674.7,349.3l3.2,1.6l-3.2,1.6zM676.9,349.4l3.2,1.6l-3.2,1.6zM679.0,349.5l3.2,1.6l-3.2,1.6zM681.2,349.6l3.2,1.6l-3.2,1.6zM683.3,349.7l3.2,1.6l-3.2,1.6zM685.5,349.7l3.2,1.6l-3.2,1.6zM687.7,349.8l3.2,1.6l-3.2,1.6zM689.8,349.9l3.2,1.6l-3.2,1.6zM692.0,350.0l3.2,1.6l-3.2,1.6zM694.1,350.1l3.2,1.6l-3.2,1.6zM696.3,350.2l3.2,1.6l-3.2,1.6zM698.4,350.3l3.2,1.6l-3.2,1.6zM700.6,350.3l3.2,1.6l-3.2,1.6zM702.8,350.4l3.2,1.6l-3.2,1.6zM704.9,350.5l3.2,1.6l-3.2,1.6zM707.1,350.6l3.2,1.6l-3.2,1.6zM709.2,350.7l3.2,1.6l-3.2,1.6zM711.4,350.7l3.2,1.6l-3.2,1.6zM713.6,350.8l3.2,1.6l-3.2,1.6zM715.7,350.9l3.2,1.6l-3.2,1.6zM717.9,351.0l3.2,1.6l-3.2,1.6zM720.0,351.1l3.2,1.6l-3.2,1.6zM722.2,351.1l3.2,1.6l-3.2,1.6zM724.3,351.2l3.2,1.6l-3.2,1.6zM726.5,351.3l3.2,1.6l-3.2,1.6zM728.7,351.4l3.2,1.6l-3.2,1.6zM730.8,351.5l3.2,1.6l-3.2,1.6zM733.0,351.5l3.2,1.6l-3.2,1.6zM735.1,351.6l3.2,1.6l-3.2,1.6zM737.3,351.7l3.2,1.6l-3.2,1.6zM739.4,351.8l3.2,1.6l-3.2,1.6zM741.6,351.8l3.2,1.6l-3.2,1.6z" fill="#0000ff" stroke="none"/>
<path d="M96.00,349.47 C97.67,349.44 102.67,349.37 106.00,349.28 C109.33,349.19 112.67,349.08 116.00,348.94 C119.33,348.80 122.67,348.64 126.00,348.44 C129.33,348.25 132.67,348.03 136.00,347.78 C139.33,347.53 142.67,347.26 146.00,346.95 C149.33,346.64 152.67,346.30 156.00,345.93 C159.33,345.56 162.67,345.16 166.00,344.72 C169.33,344.29 172.67,343.82 176.00,343.32 C179.33,342.81 182.67,342.28 186.00,341.71 C189.33,341.13 192.67,340.52 196.00,339.88 C199.33,339.23 202.67,338.55 206.00,337.83 C209.33,337.11 212.83,336.30 216.00,335.55 C219.17,334.79 222.67,333.83 225.00,333.29 C227.33,332.75 227.50,333.08 230.00,332.30 C232.50,331.52 236.23,330.07 240.00,328.60 C243.77,327.13 249.27,325.35 252.60,323.50 C255.93,321.65 257.77,319.83 260.00,317.50 C262.23,315.17 264.00,312.42 266.00,309.50 C268.00,306.58 270.08,303.08 272.00,300.00 C273.92,296.92 275.80,293.67 277.50,291.00 C279.20,288.33 280.40,287.08 282.20,284.00 C284.00,280.92 286.00,276.67 288.30,272.50 C290.60,268.33 293.23,263.75 296.00,259.00 C298.77,254.25 302.48,248.83 304.90,244.00 C307.32,239.17 308.77,234.83 310.50,230.00 C312.23,225.17 314.00,220.00 315.30,215.00 C316.60,210.00 317.28,205.83 318.30,200.00 C319.32,194.17 320.60,186.67 321.40,180.00 C322.20,173.33 322.45,167.50 323.10,160.00 C323.75,152.50 324.48,142.50 325.30,135.00 C326.12,127.50 327.08,121.67 328.00,115.00 C328.92,108.33 330.00,100.00 330.80,95.00 C331.60,90.00 332.15,88.00 332.80,85.00 C333.45,82.00 334.05,79.50 334.70,77.00 C335.35,74.50 336.08,72.08 336.70,70.00 C337.32,67.92 337.60,66.25 338.40,64.50 C339.20,62.75 340.48,60.70 341.50,59.50 C342.52,58.30 343.50,57.75 344.50,57.30 C345.50,56.85 346.50,56.72 347.50,56.80 C348.50,56.88 349.42,56.68 350.50,57.80 C351.58,58.92 352.83,61.47 354.00,63.50 C355.17,65.53 356.47,67.75 357.50,70.00 C358.53,72.25 359.42,74.67 360.20,77.00 C360.98,79.33 361.57,81.75 362.20,84.00 C362.83,86.25 363.03,87.00 364.00,90.50 C364.97,94.00 366.20,99.25 368.00,105.00 C369.80,110.75 370.70,112.50 374.80,125.00 C378.90,137.50 388.32,167.50 392.60,180.00 C396.88,192.50 398.43,195.00 400.50,200.00 C402.57,205.00 402.50,204.17 405.00,210.00 C407.50,215.83 412.75,227.75 415.50,235.00 C418.25,242.25 419.62,249.73 421.50,253.50 C423.38,257.27 423.72,254.15 426.80,257.60 C429.88,261.05 435.45,268.47 440.00,274.20 C444.55,279.93 450.77,288.12 454.10,292.00 C457.43,295.88 457.35,295.47 460.00,297.50 C462.65,299.53 466.83,301.86 470.00,304.19 C473.17,306.52 476.00,309.26 479.00,311.47 C482.00,313.69 485.00,315.65 488.00,317.47 C491.00,319.29 494.00,320.91 497.00,322.42 C500.00,323.92 503.00,325.26 506.00,326.50 C509.00,327.75 512.00,328.86 515.00,329.89 C518.00,330.92 521.00,331.84 524.00,332.70 C527.00,333.56 530.00,334.33 533.00,335.05 C536.00,335.77 539.00,336.41 542.00,337.01 C545.00,337.62 548.00,338.16 551.00,338.66 C554.00,339.17 557.00,339.63 560.00,340.06 C563.00,340.49 566.00,340.88 569.00,341.25 C572.00,341.62 575.00,341.95 578.00,342.27 C581.00,342.58 584.00,342.87 587.00,343.15 C590.00,343.42 593.00,343.67 596.00,343.91 C599.00,344.15 602.00,344.37 605.00,344.58 C608.00,344.80 611.00,344.99 614.00,345.18 C617.00,345.37 620.00,345.55 623.00,345.72 C626.00,345.89 629.00,346.05 632.00,346.20 C635.00,346.36 638.00,346.50 641.00,346.65 C644.00,346.79 647.00,346.92 650.00,347.06 C653.00,347.19 656.00,347.31 659.00,347.44 C662.00,347.56 665.00,347.68 668.00,347.80 C671.00,347.91 674.00,348.03 677.00,348.14 C680.00,348.25 683.00,348.36 686.00,348.47 C689.00,348.57 692.00,348.68 695.00,348.78 C698.00,348.88 701.00,348.98 704.00,349.08 C707.00,349.18 710.00,349.28 713.00,349.38 C716.00,349.48 719.00,349.57 722.00,349.67 C725.00,349.77 728.00,349.86 731.00,349.95 C734.00,350.05 737.97,350.17 740.00,350.23 C742.03,350.30 742.67,350.32 743.20,350.33" fill="none" stroke="#ff00ff" stroke-width="2.10" stroke-linejoin="round" stroke-linecap="butt"/>
<path d="M94.3,348.2h3.2l-1.6,2.6zM96.5,348.2h3.2l-1.6,2.6zM98.6,348.1h3.2l-1.6,2.6zM100.8,348.1h3.2l-1.6,2.6zM102.9,348.0h3.2l-1.6,2.6zM105.1,348.0h3.2l-1.6,2.6zM107.2,347.9h3.2l-1.6,2.6zM109.4,347.9h3.2l-1.6,2.6zM111.6,347.8h3.2l-1.6,2.6zM113.7,347.7h3.2l-1.6,2.6zM115.9,347.6h3.2l-1.6,2.6zM118.0,347.5h3.2l-1.6,2.6zM120.2,347.4h3.2l-1.6,2.6zM122.3,347.3h3.2l-1.6,2.6zM124.5,347.2h3.2l-1.6,2.6zM126.7,347.0h3.2l-1.6,2.6zM128.8,346.9h3.2l-1.6,2.6zM131.0,346.7h3.2l-1.6,2.6zM133.1,346.6h3.2l-1.6,2.6zM135.3,346.4h3.2l-1.6,2.6zM137.5,346.3h3.2l-1.6,2.6zM139.6,346.1h3.2l-1.6,2.6zM141.8,345.9h3.2l-1.6,2.6zM143.9,345.7h3.2l-1.6,2.6zM146.1,345.5h3.2l-1.6,2.6zM148.2,345.3h3.2l-1.6,2.6zM150.4,345.1h3.2l-1.6,2.6zM152.6,344.9h3.2l-1.6,2.6zM154.7,344.6h3.2l-1.6,2.6zM156.9,344.4h3.2l-1.6,2.6zM159.0,344.1h3.2l-1.6,2.6zM161.2,343.9h3.2l-1.6,2.6zM163.3,343.6h3.2l-1.6,2.6zM165.5,343.3h3.2l-1.6,2.6zM167.7,343.0h3.2l-1.6,2.6zM169.8,342.7h3.2l-1.6,2.6zM172.0,342.4h3.2l-1.6,2.6zM174.1,342.1h3.2l-1.6,2.6zM176.3,341.7h3.2l-1.6,2.6zM178.4,341.4h3.2l-1.6,2.6zM180.6,341.1h3.2l-1.6,2.6zM182.8,340.7h3.2l-1.6,2.6zM184.9,340.3h3.2l-1.6,2.6zM187.1,340.0h3.2l-1.6,2.6zM189.2,339.6h3.2l-1.6,2.6zM191.4,339.2h3.2l-1.6,2.6zM193.6,338.8h3.2l-1.6,2.6zM195.7,338.3h3.2l-1.6,2.6zM197.9,337.9h3.2l-1.6,2.6zM200.0,337.5h3.2l-1.6,2.6zM202.2,337.0h3.2l-1.6,2.6zM204.3,336.6h3.2l-1.6,2.6zM206.5,336.1h3.2l-1.6,2.6zM208.7,335.6h3.2l-1.6,2.6zM210.8,335.1h3.2l-1.6,2.6zM213.0,334.6h3.2l-1.6,2.6zM215.1,334.1h3.2l-1.6,2.6zM217.3,333.5h3.2l-1.6,2.6zM219.4,333.0h3.2l-1.6,2.6zM221.6,332.4h3.2l-1.6,2.6zM223.8,331.9h3.2l-1.6,2.6zM225.9,331.6h3.2l-1.6,2.6zM228.1,331.1h3.2l-1.6,2.6zM230.2,330.4h3.2l-1.6,2.6zM232.4,329.6h3.2l-1.6,2.6zM234.5,328.8h3.2l-1.6,2.6zM236.7,328.0h3.2l-1.6,2.6zM238.9,327.1h3.2l-1.6,2.6zM241.0,326.3h3.2l-1.6,2.6zM243.2,325.5h3.2l-1.6,2.6zM245.3,324.7h3.2l-1.6,2.6zM247.5,323.9h3.2l-1.6,2.6zM249.7,322.9h3.2l-1.6,2.6zM251.8,321.8h3.2l-1.6,2.6zM254.0,320.3h3.2l-1.6,2.6zM256.1,318.5h3.2l-1.6,2.6zM258.3,316.3h3.2l-1.6,2.6zM260.4,313.8h3.2l-1.6,2.6zM262.6,310.9h3.2l-1.6,2.6zM264.8,307.7h3.2l-1.6,2.6zM266.9,304.4h3.2l-1.6,2.6zM269.1,300.9h3.2l-1.6,2.6zM271.2,297.4h3.2l-1.6,2.6zM273.4,293.8h3.2l-1.6,2.6zM275.5,290.3h3.2l-1.6,2.6zM277.7,287.1h3.2l-1.6,2.6zM279.9,283.9h3.2l-1.6,2.6zM282.0,280.2h3.2l-1.6,2.6zM284.2,276.0h3.2l-1.6,2.6zM286.3,271.9h3.2l-1.6,2.6zM288.5,268.0h3.2l-1.6,2.6zM290.6,264.2h3.2l-1.6,2.6zM292.8,260.5h3.2l-1.6,2.6zM295.0,256.8h3.2l-1.6,2.6zM297.1,253.2h3.2l-1.6,2.6zM299.3,249.8h3.2l-1.6,2.6zM301.4,246.2h3.2l-1.6,2.6zM303.6,242.1h3.2l-1.6,2.6zM305.8,237.3h3.2l-1.6,2.6zM307.9,231.5h3.2l-1.6,2.6zM310.1,225.4h3.2l-1.6,2.6zM312.2,218.9h3.2l-1.6,2.6zM314.4,210.9h3.2l-1.6,2.6zM316.5,199.6h3.2l-1.6,2.6zM318.7,186.7h3.2l-1.6,2.6zM320.9,167.0h3.2l-1.6,2.6zM323.0,140.7h3.2l-1.6,2.6zM325.2,122.3h3.2l-1.6,2.6zM327.3,106.9h3.2l-1.6,2.6zM329.5,92.0h3.2l-1.6,2.6zM331.6,81.7h3.2l-1.6,2.6zM333.8,73.1h3.2l-1.6,2.6zM336.0,65.6h3.2l-1.6,2.6zM338.1,60.8h3.2l-1.6,2.6zM340.3,57.8h3.2l-1.6,2.6zM342.4,56.2h3.2l-1.6,2.6zM344.6,55.5h3.2l-1.6,2.6zM346.7,55.6h3.2l-1.6,2.6zM348.9,56.5h3.2l-1.6,2.6zM351.1,59.8h3.2l-1.6,2.6zM353.2,63.6h3.2l-1.6,2.6zM355.4,67.6h3.2l-1.6,2.6zM357.5,72.7h3.2l-1.6,2.6zM359.7,79.4h3.2l-1.6,2.6zM361.9,87.2h3.2l-1.6,2.6zM364.0,95.3h3.2l-1.6,2.6zM366.2,103.0h3.2l-1.6,2.6zM368.3,109.5h3.2l-1.6,2.6zM370.5,115.6h3.2l-1.6,2.6zM372.6,122.0h3.2l-1.6,2.6zM374.8,128.6h3.2l-1.6,2.6zM377.0,135.3h3.2l-1.6,2.6zM379.1,142.1h3.2l-1.6,2.6zM381.3,148.8h3.2l-1.6,2.6zM383.4,155.6h3.2l-1.6,2.6zM385.6,162.3h3.2l-1.6,2.6zM387.7,168.9h3.2l-1.6,2.6zM389.9,175.5h3.2l-1.6,2.6zM392.1,181.8h3.2l-1.6,2.6zM394.2,187.6h3.2l-1.6,2.6zM396.4,192.9h3.2l-1.6,2.6zM398.5,197.8h3.2l-1.6,2.6zM400.7,202.8h3.2l-1.6,2.6zM402.8,207.4h3.2l-1.6,2.6zM405.0,212.4h3.2l-1.6,2.6zM407.2,217.4h3.2l-1.6,2.6zM409.3,222.5h3.2l-1.6,2.6zM411.5,227.6h3.2l-1.6,2.6zM413.6,233.0h3.2l-1.6,2.6zM415.8,239.3h3.2l-1.6,2.6zM418.0,246.8h3.2l-1.6,2.6zM420.1,252.6h3.2l-1.6,2.6zM422.3,254.4h3.2l-1.6,2.6zM424.4,255.5h3.2l-1.6,2.6zM426.6,257.9h3.2l-1.6,2.6zM428.7,260.6h3.2l-1.6,2.6zM430.9,263.3h3.2l-1.6,2.6zM433.1,266.1h3.2l-1.6,2.6zM435.2,268.9h3.2l-1.6,2.6zM437.4,271.6h3.2l-1.6,2.6zM439.5,274.3h3.2l-1.6,2.6zM441.7,277.1h3.2l-1.6,2.6zM443.8,279.9h3.2l-1.6,2.6zM446.0,282.6h3.2l-1.6,2.6zM448.2,285.4h3.2l-1.6,2.6zM450.3,288.1h3.2l-1.6,2.6zM452.5,290.7h3.2l-1.6,2.6zM454.6,293.1h3.2l-1.6,2.6zM456.8,295.0h3.2l-1.6,2.6zM458.9,296.6h3.2l-1.6,2.6zM461.1,298.1h3.2l-1.6,2.6zM463.3,299.5h3.2l-1.6,2.6zM465.4,300.9h3.2l-1.6,2.6zM467.6,302.3h3.2l-1.6,2.6zM469.7,303.9h3.2l-1.6,2.6zM471.9,305.7h3.2l-1.6,2.6zM474.0,307.5h3.2l-1.6,2.6zM476.2,309.3h3.2l-1.6,2.6zM478.4,310.9h3.2l-1.6,2.6zM480.5,312.4h3.2l-1.6,2.6zM482.7,313.9h3.2l-1.6,2.6zM484.8,315.2h3.2l-1.6,2.6zM487.0,316.5h3.2l-1.6,2.6zM489.2,317.8h3.2l-1.6,2.6zM491.3,319.0h3.2l-1.6,2.6zM493.5,320.2h3.2l-1.6,2.6zM495.6,321.2h3.2l-1.6,2.6zM497.8,322.3h3.2l-1.6,2.6zM499.9,323.3h3.2l-1.6,2.6zM502.1,324.2h3.2l-1.6,2.6zM504.3,325.2h3.2l-1.6,2.6zM506.4,326.0h3.2l-1.6,2.6zM508.6,326.9h3.2l-1.6,2.6zM510.7,327.7h3.2l-1.6,2.6zM512.9,328.4h3.2l-1.6,2.6zM515.0,329.2h3.2l-1.6,2.6zM517.2,329.9h3.2l-1.6,2.6zM519.4,330.5h3.2l-1.6,2.6zM521.5,331.2h3.2l-1.6,2.6zM523.7,331.8h3.2l-1.6,2.6zM525.8,332.4h3.2l-1.6,2.6zM528.0,332.9h3.2l-1.6,2.6zM530.1,333.5h3.2l-1.6,2.6zM532.3,334.0h3.2l-1.6,2.6zM534.5,334.5h3.2l-1.6,2.6zM536.6,334.9h3.2l-1.6,2.6zM538.8,335.4h3.2l-1.6,2.6zM540.9,335.8h3.2l-1.6,2.6zM543.1,336.3h3.2l-1.6,2.6zM545.3,336.7h3.2l-1.6,2.6zM547.4,337.0h3.2l-1.6,2.6zM549.6,337.4h3.2l-1.6,2.6zM551.7,337.8h3.2l-1.6,2.6zM553.9,338.1h3.2l-1.6,2.6zM556.0,338.4h3.2l-1.6,2.6zM558.2,338.8h3.2l-1.6,2.6zM560.4,339.1h3.2l-1.6,2.6zM562.5,339.3h3.2l-1.6,2.6zM564.7,339.6h3.2l-1.6,2.6zM566.8,339.9h3.2l-1.6,2.6zM569.0,340.2h3.2l-1.6,2.6zM571.1,340.4h3.2l-1.6,2.6zM573.3,340.7h3.2l-1.6,2.6zM575.5,340.9h3.2l-1.6,2.6zM577.6,341.1h3.2l-1.6,2.6zM579.8,341.3h3.2l-1.6,2.6zM581.9,341.5h3.2l-1.6,2.6zM584.1,341.7h3.2l-1.6,2.6zM586.2,341.9h3.2l-1.6,2.6zM588.4,342.1h3.2l-1.6,2.6zM590.6,342.3h3.2l-1.6,2.6zM592.7,342.5h3.2l-1.6,2.6zM594.9,342.7h3.2l-1.6,2.6zM597.0,342.8h3.2l-1.6,2.6zM599.2,343.0h3.2l-1.6,2.6zM601.4,343.2h3.2l-1.6,2.6zM603.5,343.3h3.2l-1.6,2.6zM605.7,343.5h3.2l-1.6,2.6zM607.8,343.6h3.2l-1.6,2.6zM610.0,343.7h3.2l-1.6,2.6zM612.1,343.9h3.2l-1.6,2.6zM614.3,344.0h3.2l-1.6,2.6zM616.5,344.2h3.2l-1.6,2.6zM618.6,344.3h3.2l-1.6,2.6zM620.8,344.4h3.2l-1.6,2.6zM622.9,344.5h3.2l-1.6,2.6zM625.1,344.6h3.2l-1.6,2.6zM627.2,344.8h3.2l-1.6,2.6zM629.4,344.9h3.2l-1.6,2.6zM631.6,345.0h3.2l-1.6,2.6zM633.7,345.1h3.2l-1.6,2.6zM635.9,345.2h3.2l-1.6,2.6zM638.0,345.3h3.2l-1.6,2.6zM640.2,345.4h3.2l-1.6,2.6zM642.3,345.5h3.2l-1.6,2.6zM644.5,345.6h3.2l-1.6,2.6zM646.7,345.7h3.2l-1.6,2.6zM648.8,345.8h3.2l-1.6,2.6zM651.0,345.9h3.2l-1.6,2.6zM653.1,346.0h3.2l-1.6,2.6zM655.3,346.1h3.2l-1.6,2.6zM657.5,346.2h3.2l-1.6,2.6zM659.6,346.2h3.2l-1.6,2.6zM661.8,346.3h3.2l-1.6,2.6zM663.9,346.4h3.2l-1.6,2.6zM666.1,346.5h3.2l-1.6,2.6zM668.2,346.6h3.2l-1.6,2.6zM670.4,346.7h3.2l-1.6,2.6zM672.6,346.8h3.2l-1.6,2.6zM674.7,346.8h3.2l-1.6,2.6zM676.9,346.9h3.2l-1.6,2.6zM679.0,347.0h3.2l-1.6,2.6zM681.2,347.1h3.2l-1.6,2.6zM683.3,347.1h3.2l-1.6,2.6zM685.5,347.2h3.2l-1.6,2.6zM687.7,347.3h3.2l-1.6,2.6zM689.8,347.4h3.2l-1.6,2.6zM692.0,347.5h3.2l-1.6,2.6zM694.1,347.5h3.2l-1.6,2.6zM696.3,347.6h3.2l-1.6,2.6zM698.4,347.7h3.2l-1.6,2.6zM700.6,347.7h3.2l-1.6,2.6zM702.8,347.8h3.2l-1.6,2.6zM704.9,347.9h3.2l-1.6,2.6zM707.1,348.0h3.2l-1.6,2.6zM709.2,348.0h3.2l-1.6,2.6zM711.4,348.1h3.2l-1.6,2.6zM713.6,348.2h3.2l-1.6,2.6zM715.7,348.2h3.2l-1.6,2.6zM717.9,348.3h3.2l-1.6,2.6zM720.0,348.4h3.2l-1.6,2.6zM722.2,348.4h3.2l-1.6,2.6zM724.3,348.5h3.2l-1.6,2.6zM726.5,348.6h3.2l-1.6,2.6zM728.7,348.7h3.2l-1.6,2.6zM730.8,348.7h3.2l-1.6,2.6zM733.0,348.8h3.2l-1.6,2.6zM735.1,348.9h3.2l-1.6,2.6zM737.3,348.9h3.2l-1.6,2.6zM739.4,349.0h3.2l-1.6,2.6zM741.6,349.1h3.2l-1.6,2.6z" fill="#ff00ff" stroke="none"/>
<path d="M96.00,346.81 C97.67,346.78 102.67,346.73 106.00,346.65 C109.33,346.57 112.67,346.46 116.00,346.33 C119.33,346.20 122.67,346.03 126.00,345.84 C129.33,345.65 132.67,345.43 136.00,345.18 C139.33,344.93 142.67,344.66 146.00,344.34 C149.33,344.03 152.67,343.69 156.00,343.31 C159.33,342.94 162.67,342.53 166.00,342.09 C169.33,341.65 172.67,341.17 176.00,340.66 C179.33,340.15 182.67,339.60 186.00,339.02 C189.33,338.43 192.67,337.82 196.00,337.16 C199.33,336.50 202.67,335.81 206.00,335.07 C209.33,334.34 212.83,333.52 216.00,332.75 C219.17,331.98 222.67,330.98 225.00,330.46 C227.33,329.93 227.50,330.41 230.00,329.60 C232.50,328.79 236.23,327.10 240.00,325.60 C243.77,324.10 249.22,322.33 252.60,320.60 C255.98,318.87 257.57,317.68 260.30,315.20 C263.03,312.72 266.55,308.60 269.00,305.70 C271.45,302.80 272.93,300.58 275.00,297.80 C277.07,295.02 279.23,292.30 281.40,289.00 C283.57,285.70 285.90,281.57 288.00,278.00 C290.10,274.43 292.22,270.60 294.00,267.60 C295.78,264.60 296.60,263.77 298.70,260.00 C300.80,256.23 304.32,250.00 306.60,245.00 C308.88,240.00 310.87,235.00 312.40,230.00 C313.93,225.00 314.77,220.00 315.80,215.00 C316.83,210.00 317.70,205.83 318.60,200.00 C319.50,194.17 320.47,186.67 321.20,180.00 C321.93,173.33 322.33,167.50 323.00,160.00 C323.67,152.50 324.40,142.50 325.20,135.00 C326.00,127.50 326.92,121.67 327.80,115.00 C328.68,108.33 329.70,101.17 330.50,95.00 C331.30,88.83 331.93,82.83 332.60,78.00 C333.27,73.17 333.85,69.33 334.50,66.00 C335.15,62.67 335.75,60.50 336.50,58.00 C337.25,55.50 338.08,53.00 339.00,51.00 C339.92,49.00 340.92,47.42 342.00,46.00 C343.08,44.58 344.42,43.25 345.50,42.50 C346.58,41.75 347.50,41.55 348.50,41.50 C349.50,41.45 350.27,41.53 351.50,42.20 C352.73,42.87 354.00,42.53 355.90,45.50 C357.80,48.47 360.97,55.42 362.90,60.00 C364.83,64.58 366.10,68.83 367.50,73.00 C368.90,77.17 368.68,76.33 371.30,85.00 C373.92,93.67 378.28,109.17 383.20,125.00 C388.12,140.83 396.45,167.50 400.80,180.00 C405.15,192.50 407.18,195.00 409.30,200.00 C411.42,205.00 411.38,205.58 413.50,210.00 C415.62,214.42 420.40,222.17 422.00,226.50 C423.60,230.83 422.05,232.92 423.10,236.00 C424.15,239.08 426.33,241.85 428.30,245.00 C430.27,248.15 432.58,251.38 434.90,254.90 C437.22,258.42 440.35,262.92 442.20,266.10 C444.05,269.28 444.70,271.43 446.00,274.00 C447.30,276.57 447.67,278.30 450.00,281.50 C452.33,284.70 456.67,289.90 460.00,293.20 C463.33,296.50 466.83,298.82 470.00,301.31 C473.17,303.80 476.00,306.06 479.00,308.15 C482.00,310.24 485.00,312.10 488.00,313.84 C491.00,315.58 494.00,317.14 497.00,318.59 C500.00,320.04 503.00,321.34 506.00,322.55 C509.00,323.77 512.00,324.85 515.00,325.87 C518.00,326.89 521.00,327.80 524.00,328.65 C527.00,329.50 530.00,330.27 533.00,330.99 C536.00,331.71 539.00,332.35 542.00,332.96 C545.00,333.57 548.00,334.12 551.00,334.63 C554.00,335.15 557.00,335.61 560.00,336.05 C563.00,336.49 566.00,336.89 569.00,337.27 C572.00,337.64 575.00,337.99 578.00,338.31 C581.00,338.63 584.00,338.93 587.00,339.21 C590.00,339.49 593.00,339.75 596.00,340.00 C599.00,340.24 602.00,340.47 605.00,340.69 C608.00,340.90 611.00,341.11 614.00,341.30 C617.00,341.49 620.00,341.67 623.00,341.84 C626.00,342.01 629.00,342.18 632.00,342.33 C635.00,342.49 638.00,342.63 641.00,342.78 C644.00,342.92 647.00,343.05 650.00,343.18 C653.00,343.31 656.00,343.44 659.00,343.56 C662.00,343.68 665.00,343.80 668.00,343.91 C671.00,344.03 674.00,344.14 677.00,344.24 C680.00,344.35 683.00,344.45 686.00,344.56 C689.00,344.66 692.00,344.76 695.00,344.85 C698.00,344.95 701.00,345.05 704.00,345.14 C707.00,345.23 710.00,345.33 713.00,345.42 C716.00,345.51 719.00,345.60 722.00,345.69 C725.00,345.78 728.00,345.86 731.00,345.95 C734.00,346.04 737.97,346.15 740.00,346.21 C742.03,346.26 742.67,346.28 743.20,346.30" fill="none" stroke="#007800" stroke-width="1.90" stroke-linejoin="round" stroke-linecap="butt"/>
<path d="M95.9,344.5l1.9,2.3l-1.9,2.3l-1.9,-2.3zM98.1,344.5l1.9,2.3l-1.9,2.3l-1.9,-2.3zM100.2,344.5l1.9,2.3l-1.9,2.3l-1.9,-2.3zM102.4,344.4l1.9,2.3l-1.9,2.3l-1.9,-2.3zM104.5,344.4l1.9,2.3l-1.9,2.3l-1.9,-2.3zM106.7,344.4l1.9,2.3l-1.9,2.3l-1.9,-2.3zM108.8,344.3l1.9,2.3l-1.9,2.3l-1.9,-2.3zM111.0,344.2l1.9,2.3l-1.9,2.3l-1.9,-2.3zM113.2,344.2l1.9,2.3l-1.9,2.3l-1.9,-2.3zM115.3,344.1l1.9,2.3l-1.9,2.3l-1.9,-2.3zM117.5,344.0l1.9,2.3l-1.9,2.3l-1.9,-2.3zM119.6,343.9l1.9,2.3l-1.9,2.3l-1.9,-2.3zM121.8,343.8l1.9,2.3l-1.9,2.3l-1.9,-2.3zM123.9,343.7l1.9,2.3l-1.9,2.3l-1.9,-2.3zM126.1,343.6l1.9,2.3l-1.9,2.3l-1.9,-2.3zM128.3,343.4l1.9,2.3l-1.9,2.3l-1.9,-2.3zM130.4,343.3l1.9,2.3l-1.9,2.3l-1.9,-2.3zM132.6,343.2l1.9,2.3l-1.9,2.3l-1.9,-2.3zM134.7,343.0l1.9,2.3l-1.9,2.3l-1.9,-2.3zM136.9,342.8l1.9,2.3l-1.9,2.3l-1.9,-2.3zM139.1,342.7l1.9,2.3l-1.9,2.3l-1.9,-2.3zM141.2,342.5l1.9,2.3l-1.9,2.3l-1.9,-2.3zM143.4,342.3l1.9,2.3l-1.9,2.3l-1.9,-2.3zM145.5,342.1l1.9,2.3l-1.9,2.3l-1.9,-2.3zM147.7,341.9l1.9,2.3l-1.9,2.3l-1.9,-2.3zM149.8,341.7l1.9,2.3l-1.9,2.3l-1.9,-2.3zM152.0,341.5l1.9,2.3l-1.9,2.3l-1.9,-2.3zM154.2,341.2l1.9,2.3l-1.9,2.3l-1.9,-2.3zM156.3,341.0l1.9,2.3l-1.9,2.3l-1.9,-2.3zM158.5,340.8l1.9,2.3l-1.9,2.3l-1.9,-2.3zM160.6,340.5l1.9,2.3l-1.9,2.3l-1.9,-2.3zM162.8,340.2l1.9,2.3l-1.9,2.3l-1.9,-2.3zM164.9,339.9l1.9,2.3l-1.9,2.3l-1.9,-2.3zM167.1,339.7l1.9,2.3l-1.9,2.3l-1.9,-2.3zM169.3,339.4l1.9,2.3l-1.9,2.3l-1.9,-2.3zM171.4,339.1l1.9,2.3l-1.9,2.3l-1.9,-2.3zM173.6,338.7l1.9,2.3l-1.9,2.3l-1.9,-2.3zM175.7,338.4l1.9,2.3l-1.9,2.3l-1.9,-2.3zM177.9,338.1l1.9,2.3l-1.9,2.3l-1.9,-2.3zM180.0,337.7l1.9,2.3l-1.9,2.3l-1.9,-2.3zM182.2,337.4l1.9,2.3l-1.9,2.3l-1.9,-2.3zM184.4,337.0l1.9,2.3l-1.9,2.3l-1.9,-2.3zM186.5,336.6l1.9,2.3l-1.9,2.3l-1.9,-2.3zM188.7,336.3l1.9,2.3l-1.9,2.3l-1.9,-2.3zM190.8,335.9l1.9,2.3l-1.9,2.3l-1.9,-2.3zM193.0,335.5l1.9,2.3l-1.9,2.3l-1.9,-2.3zM195.2,335.0l1.9,2.3l-1.9,2.3l-1.9,-2.3zM197.3,334.6l1.9,2.3l-1.9,2.3l-1.9,-2.3zM199.5,334.2l1.9,2.3l-1.9,2.3l-1.9,-2.3zM201.6,333.7l1.9,2.3l-1.9,2.3l-1.9,-2.3zM203.8,333.3l1.9,2.3l-1.9,2.3l-1.9,-2.3zM205.9,332.8l1.9,2.3l-1.9,2.3l-1.9,-2.3zM208.1,332.3l1.9,2.3l-1.9,2.3l-1.9,-2.3zM210.3,331.8l1.9,2.3l-1.9,2.3l-1.9,-2.3zM212.4,331.3l1.9,2.3l-1.9,2.3l-1.9,-2.3zM214.6,330.8l1.9,2.3l-1.9,2.3l-1.9,-2.3zM216.7,330.3l1.9,2.3l-1.9,2.3l-1.9,-2.3zM218.9,329.7l1.9,2.3l-1.9,2.3l-1.9,-2.3zM221.0,329.2l1.9,2.3l-1.9,2.3l-1.9,-2.3zM223.2,328.6l1.9,2.3l-1.9,2.3l-1.9,-2.3zM225.4,328.1l1.9,2.3l-1.9,2.3l-1.9,-2.3zM227.5,327.8l1.9,2.3l-1.9,2.3l-1.9,-2.3zM229.7,327.4l1.9,2.3l-1.9,2.3l-1.9,-2.3zM231.8,326.7l1.9,2.3l-1.9,2.3l-1.9,-2.3zM234.0,325.8l1.9,2.3l-1.9,2.3l-1.9,-2.3zM236.1,324.9l1.9,2.3l-1.9,2.3l-1.9,-2.3zM238.3,324.0l1.9,2.3l-1.9,2.3l-1.9,-2.3zM240.5,323.1l1.9,2.3l-1.9,2.3l-1.9,-2.3zM242.6,322.3l1.9,2.3l-1.9,2.3l-1.9,-2.3zM244.8,321.5l1.9,2.3l-1.9,2.3l-1.9,-2.3zM246.9,320.7l1.9,2.3l-1.9,2.3l-1.9,-2.3zM249.1,319.9l1.9,2.3l-1.9,2.3l-1.9,-2.3zM251.3,319.0l1.9,2.3l-1.9,2.3l-1.9,-2.3zM253.4,317.9l1.9,2.3l-1.9,2.3l-1.9,-2.3zM255.6,316.7l1.9,2.3l-1.9,2.3l-1.9,-2.3zM257.7,315.1l1.9,2.3l-1.9,2.3l-1.9,-2.3zM259.9,313.3l1.9,2.3l-1.9,2.3l-1.9,-2.3zM262.0,311.2l1.9,2.3l-1.9,2.3l-1.9,-2.3zM264.2,308.9l1.9,2.3l-1.9,2.3l-1.9,-2.3zM266.4,306.5l1.9,2.3l-1.9,2.3l-1.9,-2.3zM268.5,304.0l1.9,2.3l-1.9,2.3l-1.9,-2.3zM270.7,301.4l1.9,2.3l-1.9,2.3l-1.9,-2.3zM272.8,298.5l1.9,2.3l-1.9,2.3l-1.9,-2.3zM275.0,295.5l1.9,2.3l-1.9,2.3l-1.9,-2.3zM277.1,292.7l1.9,2.3l-1.9,2.3l-1.9,-2.3zM279.3,289.8l1.9,2.3l-1.9,2.3l-1.9,-2.3zM281.5,286.6l1.9,2.3l-1.9,2.3l-1.9,-2.3zM283.6,283.2l1.9,2.3l-1.9,2.3l-1.9,-2.3zM285.8,279.5l1.9,2.3l-1.9,2.3l-1.9,-2.3zM287.9,275.8l1.9,2.3l-1.9,2.3l-1.9,-2.3zM290.1,272.1l1.9,2.3l-1.9,2.3l-1.9,-2.3zM292.2,268.3l1.9,2.3l-1.9,2.3l-1.9,-2.3zM294.4,264.6l1.9,2.3l-1.9,2.3l-1.9,-2.3zM296.6,261.3l1.9,2.3l-1.9,2.3l-1.9,-2.3zM298.7,257.7l1.9,2.3l-1.9,2.3l-1.9,-2.3zM300.9,253.8l1.9,2.3l-1.9,2.3l-1.9,-2.3zM303.0,249.8l1.9,2.3l-1.9,2.3l-1.9,-2.3zM305.2,245.7l1.9,2.3l-1.9,2.3l-1.9,-2.3zM307.4,241.0l1.9,2.3l-1.9,2.3l-1.9,-2.3zM309.5,235.9l1.9,2.3l-1.9,2.3l-1.9,-2.3zM311.7,230.0l1.9,2.3l-1.9,2.3l-1.9,-2.3zM313.8,222.3l1.9,2.3l-1.9,2.3l-1.9,-2.3zM316.0,211.8l1.9,2.3l-1.9,2.3l-1.9,-2.3zM318.1,200.6l1.9,2.3l-1.9,2.3l-1.9,-2.3zM320.3,185.4l1.9,2.3l-1.9,2.3l-1.9,-2.3zM322.5,164.1l1.9,2.3l-1.9,2.3l-1.9,-2.3zM324.6,138.7l1.9,2.3l-1.9,2.3l-1.9,-2.3zM326.8,120.2l1.9,2.3l-1.9,2.3l-1.9,-2.3zM328.9,104.4l1.9,2.3l-1.9,2.3l-1.9,-2.3zM331.1,88.0l1.9,2.3l-1.9,2.3l-1.9,-2.3zM333.2,71.2l1.9,2.3l-1.9,2.3l-1.9,-2.3zM335.4,59.7l1.9,2.3l-1.9,2.3l-1.9,-2.3zM337.6,52.4l1.9,2.3l-1.9,2.3l-1.9,-2.3zM339.7,47.3l1.9,2.3l-1.9,2.3l-1.9,-2.3zM341.9,43.9l1.9,2.3l-1.9,2.3l-1.9,-2.3zM344.0,41.4l1.9,2.3l-1.9,2.3l-1.9,-2.3zM346.2,39.8l1.9,2.3l-1.9,2.3l-1.9,-2.3zM348.3,39.2l1.9,2.3l-1.9,2.3l-1.9,-2.3zM350.5,39.5l1.9,2.3l-1.9,2.3l-1.9,-2.3zM352.7,40.4l1.9,2.3l-1.9,2.3l-1.9,-2.3zM354.8,41.8l1.9,2.3l-1.9,2.3l-1.9,-2.3zM357.0,45.1l1.9,2.3l-1.9,2.3l-1.9,-2.3zM359.1,49.3l1.9,2.3l-1.9,2.3l-1.9,-2.3zM361.3,54.0l1.9,2.3l-1.9,2.3l-1.9,-2.3zM363.5,59.1l1.9,2.3l-1.9,2.3l-1.9,-2.3zM365.6,65.0l1.9,2.3l-1.9,2.3l-1.9,-2.3zM367.8,71.5l1.9,2.3l-1.9,2.3l-1.9,-2.3zM369.9,78.2l1.9,2.3l-1.9,2.3l-1.9,-2.3zM372.1,85.3l1.9,2.3l-1.9,2.3l-1.9,-2.3zM374.2,92.7l1.9,2.3l-1.9,2.3l-1.9,-2.3zM376.4,100.1l1.9,2.3l-1.9,2.3l-1.9,-2.3zM378.6,107.4l1.9,2.3l-1.9,2.3l-1.9,-2.3zM380.7,114.6l1.9,2.3l-1.9,2.3l-1.9,-2.3zM382.9,121.7l1.9,2.3l-1.9,2.3l-1.9,-2.3zM385.0,128.6l1.9,2.3l-1.9,2.3l-1.9,-2.3zM387.2,135.5l1.9,2.3l-1.9,2.3l-1.9,-2.3zM389.3,142.4l1.9,2.3l-1.9,2.3l-1.9,-2.3zM391.5,149.2l1.9,2.3l-1.9,2.3l-1.9,-2.3zM393.7,156.0l1.9,2.3l-1.9,2.3l-1.9,-2.3zM395.8,162.7l1.9,2.3l-1.9,2.3l-1.9,-2.3zM398.0,169.3l1.9,2.3l-1.9,2.3l-1.9,-2.3zM400.1,175.8l1.9,2.3l-1.9,2.3l-1.9,-2.3zM402.3,181.9l1.9,2.3l-1.9,2.3l-1.9,-2.3zM404.4,187.3l1.9,2.3l-1.9,2.3l-1.9,-2.3zM406.6,192.0l1.9,2.3l-1.9,2.3l-1.9,-2.3zM408.8,196.5l1.9,2.3l-1.9,2.3l-1.9,-2.3zM410.9,201.7l1.9,2.3l-1.9,2.3l-1.9,-2.3zM413.1,206.8l1.9,2.3l-1.9,2.3l-1.9,-2.3zM415.2,211.1l1.9,2.3l-1.9,2.3l-1.9,-2.3zM417.4,215.0l1.9,2.3l-1.9,2.3l-1.9,-2.3zM419.6,219.0l1.9,2.3l-1.9,2.3l-1.9,-2.3zM421.7,223.5l1.9,2.3l-1.9,2.3l-1.9,-2.3zM423.9,235.6l1.9,2.3l-1.9,2.3l-1.9,-2.3zM426.0,239.2l1.9,2.3l-1.9,2.3l-1.9,-2.3zM428.2,242.5l1.9,2.3l-1.9,2.3l-1.9,-2.3zM430.3,245.9l1.9,2.3l-1.9,2.3l-1.9,-2.3zM432.5,249.0l1.9,2.3l-1.9,2.3l-1.9,-2.3zM434.7,252.2l1.9,2.3l-1.9,2.3l-1.9,-2.3zM436.8,255.5l1.9,2.3l-1.9,2.3l-1.9,-2.3zM439.0,258.7l1.9,2.3l-1.9,2.3l-1.9,-2.3zM441.1,262.0l1.9,2.3l-1.9,2.3l-1.9,-2.3zM443.3,265.8l1.9,2.3l-1.9,2.3l-1.9,-2.3zM445.4,270.6l1.9,2.3l-1.9,2.3l-1.9,-2.3zM447.6,275.2l1.9,2.3l-1.9,2.3l-1.9,-2.3zM449.8,278.9l1.9,2.3l-1.9,2.3l-1.9,-2.3zM451.9,281.7l1.9,2.3l-1.9,2.3l-1.9,-2.3zM454.1,284.4l1.9,2.3l-1.9,2.3l-1.9,-2.3zM456.2,286.9l1.9,2.3l-1.9,2.3l-1.9,-2.3zM458.4,289.3l1.9,2.3l-1.9,2.3l-1.9,-2.3zM460.5,291.5l1.9,2.3l-1.9,2.3l-1.9,-2.3zM462.7,293.4l1.9,2.3l-1.9,2.3l-1.9,-2.3zM464.9,295.1l1.9,2.3l-1.9,2.3l-1.9,-2.3zM467.0,296.8l1.9,2.3l-1.9,2.3l-1.9,-2.3zM469.2,298.4l1.9,2.3l-1.9,2.3l-1.9,-2.3zM471.3,300.1l1.9,2.3l-1.9,2.3l-1.9,-2.3zM473.5,301.8l1.9,2.3l-1.9,2.3l-1.9,-2.3zM475.6,303.4l1.9,2.3l-1.9,2.3l-1.9,-2.3zM477.8,305.0l1.9,2.3l-1.9,2.3l-1.9,-2.3zM480.0,306.5l1.9,2.3l-1.9,2.3l-1.9,-2.3zM482.1,308.0l1.9,2.3l-1.9,2.3l-1.9,-2.3zM484.3,309.3l1.9,2.3l-1.9,2.3l-1.9,-2.3zM486.4,310.6l1.9,2.3l-1.9,2.3l-1.9,-2.3zM488.6,311.9l1.9,2.3l-1.9,2.3l-1.9,-2.3zM490.8,313.1l1.9,2.3l-1.9,2.3l-1.9,-2.3zM492.9,314.3l1.9,2.3l-1.9,2.3l-1.9,-2.3zM495.1,315.4l1.9,2.3l-1.9,2.3l-1.9,-2.3zM497.2,316.4l1.9,2.3l-1.9,2.3l-1.9,-2.3zM499.4,317.4l1.9,2.3l-1.9,2.3l-1.9,-2.3zM501.5,318.4l1.9,2.3l-1.9,2.3l-1.9,-2.3zM503.7,319.3l1.9,2.3l-1.9,2.3l-1.9,-2.3zM505.9,320.2l1.9,2.3l-1.9,2.3l-1.9,-2.3zM508.0,321.1l1.9,2.3l-1.9,2.3l-1.9,-2.3zM510.2,321.9l1.9,2.3l-1.9,2.3l-1.9,-2.3zM512.3,322.7l1.9,2.3l-1.9,2.3l-1.9,-2.3zM514.5,323.4l1.9,2.3l-1.9,2.3l-1.9,-2.3zM516.6,324.1l1.9,2.3l-1.9,2.3l-1.9,-2.3zM518.8,324.8l1.9,2.3l-1.9,2.3l-1.9,-2.3zM521.0,325.5l1.9,2.3l-1.9,2.3l-1.9,-2.3zM523.1,326.1l1.9,2.3l-1.9,2.3l-1.9,-2.3zM525.3,326.7l1.9,2.3l-1.9,2.3l-1.9,-2.3zM527.4,327.3l1.9,2.3l-1.9,2.3l-1.9,-2.3zM529.6,327.9l1.9,2.3l-1.9,2.3l-1.9,-2.3zM531.7,328.4l1.9,2.3l-1.9,2.3l-1.9,-2.3zM533.9,328.9l1.9,2.3l-1.9,2.3l-1.9,-2.3zM536.1,329.4l1.9,2.3l-1.9,2.3l-1.9,-2.3zM538.2,329.9l1.9,2.3l-1.9,2.3l-1.9,-2.3zM540.4,330.3l1.9,2.3l-1.9,2.3l-1.9,-2.3zM542.5,330.8l1.9,2.3l-1.9,2.3l-1.9,-2.3zM544.7,331.2l1.9,2.3l-1.9,2.3l-1.9,-2.3zM546.9,331.6l1.9,2.3l-1.9,2.3l-1.9,-2.3zM549.0,332.0l1.9,2.3l-1.9,2.3l-1.9,-2.3zM551.2,332.4l1.9,2.3l-1.9,2.3l-1.9,-2.3zM553.3,332.7l1.9,2.3l-1.9,2.3l-1.9,-2.3zM555.5,333.1l1.9,2.3l-1.9,2.3l-1.9,-2.3zM557.6,333.4l1.9,2.3l-1.9,2.3l-1.9,-2.3zM559.8,333.7l1.9,2.3l-1.9,2.3l-1.9,-2.3zM562.0,334.1l1.9,2.3l-1.9,2.3l-1.9,-2.3zM564.1,334.4l1.9,2.3l-1.9,2.3l-1.9,-2.3zM566.3,334.6l1.9,2.3l-1.9,2.3l-1.9,-2.3zM568.4,334.9l1.9,2.3l-1.9,2.3l-1.9,-2.3zM570.6,335.2l1.9,2.3l-1.9,2.3l-1.9,-2.3zM572.7,335.4l1.9,2.3l-1.9,2.3l-1.9,-2.3zM574.9,335.7l1.9,2.3l-1.9,2.3l-1.9,-2.3zM577.1,335.9l1.9,2.3l-1.9,2.3l-1.9,-2.3zM579.2,336.2l1.9,2.3l-1.9,2.3l-1.9,-2.3zM581.4,336.4l1.9,2.3l-1.9,2.3l-1.9,-2.3zM583.5,336.6l1.9,2.3l-1.9,2.3l-1.9,-2.3zM585.7,336.8l1.9,2.3l-1.9,2.3l-1.9,-2.3zM587.8,337.0l1.9,2.3l-1.9,2.3l-1.9,-2.3zM590.0,337.2l1.9,2.3l-1.9,2.3l-1.9,-2.3zM592.2,337.4l1.9,2.3l-1.9,2.3l-1.9,-2.3zM594.3,337.6l1.9,2.3l-1.9,2.3l-1.9,-2.3zM596.5,337.8l1.9,2.3l-1.9,2.3l-1.9,-2.3zM598.6,337.9l1.9,2.3l-1.9,2.3l-1.9,-2.3zM600.8,338.1l1.9,2.3l-1.9,2.3l-1.9,-2.3zM603.0,338.3l1.9,2.3l-1.9,2.3l-1.9,-2.3zM605.1,338.4l1.9,2.3l-1.9,2.3l-1.9,-2.3zM607.3,338.6l1.9,2.3l-1.9,2.3l-1.9,-2.3zM609.4,338.7l1.9,2.3l-1.9,2.3l-1.9,-2.3zM611.6,338.9l1.9,2.3l-1.9,2.3l-1.9,-2.3zM613.7,339.0l1.9,2.3l-1.9,2.3l-1.9,-2.3zM615.9,339.1l1.9,2.3l-1.9,2.3l-1.9,-2.3zM618.1,339.3l1.9,2.3l-1.9,2.3l-1.9,-2.3zM620.2,339.4l1.9,2.3l-1.9,2.3l-1.9,-2.3zM622.4,339.5l1.9,2.3l-1.9,2.3l-1.9,-2.3zM624.5,339.6l1.9,2.3l-1.9,2.3l-1.9,-2.3zM626.7,339.8l1.9,2.3l-1.9,2.3l-1.9,-2.3zM628.8,339.9l1.9,2.3l-1.9,2.3l-1.9,-2.3zM631.0,340.0l1.9,2.3l-1.9,2.3l-1.9,-2.3zM633.2,340.1l1.9,2.3l-1.9,2.3l-1.9,-2.3zM635.3,340.2l1.9,2.3l-1.9,2.3l-1.9,-2.3zM637.5,340.3l1.9,2.3l-1.9,2.3l-1.9,-2.3zM639.6,340.4l1.9,2.3l-1.9,2.3l-1.9,-2.3zM641.8,340.5l1.9,2.3l-1.9,2.3l-1.9,-2.3zM643.9,340.6l1.9,2.3l-1.9,2.3l-1.9,-2.3zM646.1,340.7l1.9,2.3l-1.9,2.3l-1.9,-2.3zM648.3,340.8l1.9,2.3l-1.9,2.3l-1.9,-2.3zM650.4,340.9l1.9,2.3l-1.9,2.3l-1.9,-2.3zM652.6,341.0l1.9,2.3l-1.9,2.3l-1.9,-2.3zM654.7,341.1l1.9,2.3l-1.9,2.3l-1.9,-2.3zM656.9,341.2l1.9,2.3l-1.9,2.3l-1.9,-2.3zM659.1,341.3l1.9,2.3l-1.9,2.3l-1.9,-2.3zM661.2,341.4l1.9,2.3l-1.9,2.3l-1.9,-2.3zM663.4,341.5l1.9,2.3l-1.9,2.3l-1.9,-2.3zM665.5,341.5l1.9,2.3l-1.9,2.3l-1.9,-2.3zM667.7,341.6l1.9,2.3l-1.9,2.3l-1.9,-2.3zM669.8,341.7l1.9,2.3l-1.9,2.3l-1.9,-2.3zM672.0,341.8l1.9,2.3l-1.9,2.3l-1.9,-2.3zM674.2,341.9l1.9,2.3l-1.9,2.3l-1.9,-2.3zM676.3,341.9l1.9,2.3l-1.9,2.3l-1.9,-2.3zM678.5,342.0l1.9,2.3l-1.9,2.3l-1.9,-2.3zM680.6,342.1l1.9,2.3l-1.9,2.3l-1.9,-2.3zM682.8,342.2l1.9,2.3l-1.9,2.3l-1.9,-2.3zM684.9,342.2l1.9,2.3l-1.9,2.3l-1.9,-2.3zM687.1,342.3l1.9,2.3l-1.9,2.3l-1.9,-2.3zM689.3,342.4l1.9,2.3l-1.9,2.3l-1.9,-2.3zM691.4,342.5l1.9,2.3l-1.9,2.3l-1.9,-2.3zM693.6,342.5l1.9,2.3l-1.9,2.3l-1.9,-2.3zM695.7,342.6l1.9,2.3l-1.9,2.3l-1.9,-2.3zM697.9,342.7l1.9,2.3l-1.9,2.3l-1.9,-2.3zM700.0,342.7l1.9,2.3l-1.9,2.3l-1.9,-2.3zM702.2,342.8l1.9,2.3l-1.9,2.3l-1.9,-2.3zM704.4,342.9l1.9,2.3l-1.9,2.3l-1.9,-2.3zM706.5,342.9l1.9,2.3l-1.9,2.3l-1.9,-2.3zM708.7,343.0l1.9,2.3l-1.9,2.3l-1.9,-2.3zM710.8,343.1l1.9,2.3l-1.9,2.3l-1.9,-2.3zM713.0,343.1l1.9,2.3l-1.9,2.3l-1.9,-2.3zM715.2,343.2l1.9,2.3l-1.9,2.3l-1.9,-2.3zM717.3,343.3l1.9,2.3l-1.9,2.3l-1.9,-2.3zM719.5,343.3l1.9,2.3l-1.9,2.3l-1.9,-2.3zM721.6,343.4l1.9,2.3l-1.9,2.3l-1.9,-2.3zM723.8,343.5l1.9,2.3l-1.9,2.3l-1.9,-2.3zM725.9,343.5l1.9,2.3l-1.9,2.3l-1.9,-2.3zM728.1,343.6l1.9,2.3l-1.9,2.3l-1.9,-2.3zM730.3,343.6l1.9,2.3l-1.9,2.3l-1.9,-2.3zM732.4,343.7l1.9,2.3l-1.9,2.3l-1.9,-2.3zM734.6,343.8l1.9,2.3l-1.9,2.3l-1.9,-2.3zM736.7,343.8l1.9,2.3l-1.9,2.3l-1.9,-2.3zM738.9,343.9l1.9,2.3l-1.9,2.3l-1.9,-2.3zM741.0,344.0l1.9,2.3l-1.9,2.3l-1.9,-2.3zM743.2,344.0l1.9,2.3l-1.9,2.3l-1.9,-2.3z" fill="#006000" stroke="none"/>
<path d="M96.00,342.25 C97.67,342.21 102.67,342.12 106.00,342.01 C109.33,341.91 112.67,341.79 116.00,341.65 C119.33,341.50 122.67,341.33 126.00,341.13 C129.33,340.93 132.67,340.71 136.00,340.46 C139.33,340.21 142.67,339.93 146.00,339.62 C149.33,339.31 152.67,338.97 156.00,338.60 C159.33,338.22 162.67,337.82 166.00,337.37 C169.33,336.93 172.67,336.46 176.00,335.94 C179.33,335.43 182.67,334.88 186.00,334.29 C189.33,333.70 192.67,333.07 196.00,332.40 C199.33,331.73 202.67,331.02 206.00,330.27 C209.33,329.51 212.83,328.67 216.00,327.87 C219.17,327.07 222.67,326.07 225.00,325.48 C227.33,324.88 227.50,325.11 230.00,324.30 C232.50,323.49 236.67,321.98 240.00,320.60 C243.33,319.22 247.00,317.72 250.00,316.00 C253.00,314.28 255.50,312.37 258.00,310.30 C260.50,308.23 262.67,306.05 265.00,303.60 C267.33,301.15 269.67,298.73 272.00,295.60 C274.33,292.47 276.78,288.32 279.00,284.80 C281.22,281.28 283.30,277.80 285.30,274.50 C287.30,271.20 288.85,268.55 291.00,265.00 C293.15,261.45 296.12,256.93 298.20,253.20 C300.28,249.47 301.95,245.88 303.50,242.60 C305.05,239.32 306.30,236.43 307.50,233.50 C308.70,230.57 309.62,228.42 310.70,225.00 C311.78,221.58 312.95,217.17 314.00,213.00 C315.05,208.83 315.97,204.67 317.00,200.00 C318.03,195.33 319.33,190.83 320.20,185.00 C321.07,179.17 321.47,172.00 322.20,165.00 C322.93,158.00 323.87,150.50 324.60,143.00 C325.33,135.50 325.97,126.67 326.60,120.00 C327.23,113.33 327.83,107.67 328.40,103.00 C328.97,98.33 329.48,95.60 330.00,92.00 C330.52,88.40 330.87,85.32 331.50,81.40 C332.13,77.48 333.00,71.98 333.80,68.50 C334.60,65.02 335.35,62.67 336.30,60.50 C337.25,58.33 338.47,56.83 339.50,55.50 C340.53,54.17 341.50,53.28 342.50,52.50 C343.50,51.72 344.58,51.18 345.50,50.80 C346.42,50.42 347.17,50.17 348.00,50.20 C348.83,50.23 349.63,50.28 350.50,51.00 C351.37,51.72 351.87,51.92 353.20,54.50 C354.53,57.08 356.88,62.60 358.50,66.50 C360.12,70.40 361.65,74.73 362.90,77.90 C364.15,81.07 364.48,81.15 366.00,85.50 C367.52,89.85 369.95,97.42 372.00,104.00 C374.05,110.58 374.30,112.33 378.30,125.00 C382.30,137.67 391.67,167.50 396.00,180.00 C400.33,192.50 402.30,195.00 404.30,200.00 C406.30,205.00 405.58,204.17 408.00,210.00 C410.42,215.83 416.13,229.08 418.80,235.00 C421.47,240.92 422.23,242.17 424.00,245.50 C425.77,248.83 426.40,250.95 429.40,255.00 C432.40,259.05 437.73,264.80 442.00,269.80 C446.27,274.80 450.67,280.33 455.00,285.00 C459.33,289.67 465.50,295.43 468.00,297.80 C470.50,300.17 468.17,297.95 470.00,299.25 C471.83,300.54 476.00,303.64 479.00,305.59 C482.00,307.54 485.00,309.29 488.00,310.93 C491.00,312.57 494.00,314.04 497.00,315.42 C500.00,316.81 503.00,318.05 506.00,319.22 C509.00,320.39 512.00,321.44 515.00,322.43 C518.00,323.42 521.00,324.31 524.00,325.15 C527.00,325.98 530.00,326.74 533.00,327.45 C536.00,328.16 539.00,328.81 542.00,329.42 C545.00,330.02 548.00,330.57 551.00,331.09 C554.00,331.61 557.00,332.08 560.00,332.52 C563.00,332.97 566.00,333.37 569.00,333.76 C572.00,334.14 575.00,334.49 578.00,334.82 C581.00,335.15 584.00,335.46 587.00,335.75 C590.00,336.04 593.00,336.30 596.00,336.55 C599.00,336.81 602.00,337.04 605.00,337.26 C608.00,337.48 611.00,337.69 614.00,337.89 C617.00,338.09 620.00,338.27 623.00,338.45 C626.00,338.62 629.00,338.79 632.00,338.94 C635.00,339.10 638.00,339.25 641.00,339.40 C644.00,339.54 647.00,339.68 650.00,339.81 C653.00,339.94 656.00,340.06 659.00,340.18 C662.00,340.31 665.00,340.42 668.00,340.53 C671.00,340.65 674.00,340.75 677.00,340.86 C680.00,340.96 683.00,341.07 686.00,341.17 C689.00,341.26 692.00,341.36 695.00,341.45 C698.00,341.55 701.00,341.64 704.00,341.73 C707.00,341.82 710.00,341.91 713.00,341.99 C716.00,342.08 719.00,342.17 722.00,342.25 C725.00,342.33 728.00,342.41 731.00,342.50 C734.00,342.58 737.97,342.68 740.00,342.73 C742.03,342.79 742.67,342.80 743.20,342.82" fill="none" stroke="#000058" stroke-width="2.50" stroke-linejoin="round" stroke-linecap="butt"/>
<path d="M94.5,342.3h2.8M95.9,340.9v2.8M96.7,342.2h2.8M98.1,340.8v2.8M98.8,342.2h2.8M100.2,340.8v2.8M101.0,342.1h2.8M102.4,340.7v2.8M103.1,342.1h2.8M104.5,340.7v2.8M105.3,342.0h2.8M106.7,340.6v2.8M107.4,341.9h2.8M108.8,340.5v2.8M109.6,341.8h2.8M111.0,340.4v2.8M111.8,341.8h2.8M113.2,340.4v2.8M113.9,341.7h2.8M115.3,340.3v2.8M116.1,341.6h2.8M117.5,340.2v2.8M118.2,341.5h2.8M119.6,340.1v2.8M120.4,341.4h2.8M121.8,340.0v2.8M122.5,341.2h2.8M123.9,339.8v2.8M124.7,341.1h2.8M126.1,339.7v2.8M126.9,341.0h2.8M128.3,339.6v2.8M129.0,340.9h2.8M130.4,339.5v2.8M131.2,340.7h2.8M132.6,339.3v2.8M133.3,340.6h2.8M134.7,339.2v2.8M135.5,340.4h2.8M136.9,339.0v2.8M137.7,340.2h2.8M139.1,338.8v2.8M139.8,340.0h2.8M141.2,338.6v2.8M142.0,339.9h2.8M143.4,338.5v2.8M144.1,339.7h2.8M145.5,338.3v2.8M146.3,339.5h2.8M147.7,338.1v2.8M148.4,339.2h2.8M149.8,337.8v2.8M150.6,339.0h2.8M152.0,337.6v2.8M152.8,338.8h2.8M154.2,337.4v2.8M154.9,338.6h2.8M156.3,337.2v2.8M157.1,338.3h2.8M158.5,336.9v2.8M159.2,338.1h2.8M160.6,336.7v2.8M161.4,337.8h2.8M162.8,336.4v2.8M163.5,337.5h2.8M164.9,336.1v2.8M165.7,337.2h2.8M167.1,335.8v2.8M167.9,336.9h2.8M169.3,335.5v2.8M170.0,336.6h2.8M171.4,335.2v2.8M172.2,336.3h2.8M173.6,334.9v2.8M174.3,336.0h2.8M175.7,334.6v2.8M176.5,335.6h2.8M177.9,334.2v2.8M178.6,335.3h2.8M180.0,333.9v2.8M180.8,334.9h2.8M182.2,333.5v2.8M183.0,334.6h2.8M184.4,333.2v2.8M185.1,334.2h2.8M186.5,332.8v2.8M187.3,333.8h2.8M188.7,332.4v2.8M189.4,333.4h2.8M190.8,332.0v2.8M191.6,333.0h2.8M193.0,331.6v2.8M193.8,332.6h2.8M195.2,331.2v2.8M195.9,332.1h2.8M197.3,330.7v2.8M198.1,331.7h2.8M199.5,330.3v2.8M200.2,331.2h2.8M201.6,329.8v2.8M202.4,330.8h2.8M203.8,329.4v2.8M204.5,330.3h2.8M205.9,328.9v2.8M206.7,329.8h2.8M208.1,328.4v2.8M208.9,329.3h2.8M210.3,327.9v2.8M211.0,328.8h2.8M212.4,327.4v2.8M213.2,328.2h2.8M214.6,326.8v2.8M215.3,327.7h2.8M216.7,326.3v2.8M217.5,327.1h2.8M218.9,325.7v2.8M219.6,326.5h2.8M221.0,325.1v2.8M221.8,326.0h2.8M223.2,324.6v2.8M224.0,325.4h2.8M225.4,324.0v2.8M226.1,325.0h2.8M227.5,323.6v2.8M228.3,324.4h2.8M229.7,323.0v2.8M230.4,323.7h2.8M231.8,322.3v2.8M232.6,322.9h2.8M234.0,321.5v2.8M234.7,322.1h2.8M236.1,320.7v2.8M236.9,321.3h2.8M238.3,319.9v2.8M239.1,320.4h2.8M240.5,319.0v2.8M241.2,319.5h2.8M242.6,318.1v2.8M243.4,318.6h2.8M244.8,317.2v2.8M245.5,317.6h2.8M246.9,316.2v2.8M247.7,316.5h2.8M249.1,315.1v2.8M249.9,315.3h2.8M251.3,313.9v2.8M252.0,313.8h2.8M253.4,312.4v2.8M254.2,312.2h2.8M255.6,310.8v2.8M256.3,310.5h2.8M257.7,309.1v2.8M258.5,308.7h2.8M259.9,307.3v2.8M260.6,306.6h2.8M262.0,305.2v2.8M262.8,304.4h2.8M264.2,303.0v2.8M265.0,302.2h2.8M266.4,300.8v2.8M267.1,299.8h2.8M268.5,298.4v2.8M269.3,297.3h2.8M270.7,295.9v2.8M271.4,294.5h2.8M272.8,293.1v2.8M273.6,291.2h2.8M275.0,289.8v2.8M275.7,287.8h2.8M277.1,286.4v2.8M277.9,284.3h2.8M279.3,282.9v2.8M280.1,280.8h2.8M281.5,279.4v2.8M282.2,277.3h2.8M283.6,275.9v2.8M284.4,273.7h2.8M285.8,272.3v2.8M286.5,270.1h2.8M287.9,268.7v2.8M288.7,266.5h2.8M290.1,265.1v2.8M290.8,263.0h2.8M292.2,261.6v2.8M293.0,259.5h2.8M294.4,258.1v2.8M295.2,256.0h2.8M296.6,254.6v2.8M297.3,252.3h2.8M298.7,250.9v2.8M299.5,248.1h2.8M300.9,246.7v2.8M301.6,243.6h2.8M303.0,242.2v2.8M303.8,238.9h2.8M305.2,237.5v2.8M306.0,233.9h2.8M307.4,232.5v2.8M308.1,228.5h2.8M309.5,227.1v2.8M310.3,221.8h2.8M311.7,220.4v2.8M312.4,213.7h2.8M313.8,212.3v2.8M314.6,204.6h2.8M316.0,203.2v2.8M316.7,195.2h2.8M318.1,193.8v2.8M318.9,184.3h2.8M320.3,182.9v2.8M321.1,162.6h2.8M322.5,161.2v2.8M323.2,142.9h2.8M324.6,141.5v2.8M325.4,118.2h2.8M326.8,116.8v2.8M327.5,99.0h2.8M328.9,97.6v2.8M329.7,84.1h2.8M331.1,82.7v2.8M331.8,71.2h2.8M333.2,69.8v2.8M334.0,62.8h2.8M335.4,61.4v2.8M336.2,58.2h2.8M337.6,56.8v2.8M338.3,55.2h2.8M339.7,53.8v2.8M340.5,53.0h2.8M341.9,51.6v2.8M342.6,51.5h2.8M344.0,50.1v2.8M344.8,50.5h2.8M346.2,49.1v2.8M346.9,50.2h2.8M348.3,48.8v2.8M349.1,51.0h2.8M350.5,49.6v2.8M351.3,53.5h2.8M352.7,52.1v2.8M353.4,57.9h2.8M354.8,56.5v2.8M355.6,62.9h2.8M357.0,61.5v2.8M357.7,68.1h2.8M359.1,66.7v2.8M359.9,73.7h2.8M361.3,72.3v2.8M362.1,79.2h2.8M363.5,77.8v2.8M364.2,84.4h2.8M365.6,83.0v2.8M366.4,90.7h2.8M367.8,89.3v2.8M368.5,97.4h2.8M369.9,96.0v2.8M370.7,104.3h2.8M372.1,102.9v2.8M372.8,111.6h2.8M374.2,110.2v2.8M375.0,118.9h2.8M376.4,117.5v2.8M377.2,125.8h2.8M378.6,124.4v2.8M379.3,132.6h2.8M380.7,131.2v2.8M381.5,139.5h2.8M382.9,138.1v2.8M383.6,146.3h2.8M385.0,144.9v2.8M385.8,153.1h2.8M387.2,151.7v2.8M387.9,159.8h2.8M389.3,158.4v2.8M390.1,166.5h2.8M391.5,165.1v2.8M392.3,173.1h2.8M393.7,171.7v2.8M394.4,179.5h2.8M395.8,178.1v2.8M396.6,185.5h2.8M398.0,184.1v2.8M398.7,190.8h2.8M400.1,189.4v2.8M400.9,195.5h2.8M402.3,194.1v2.8M403.0,200.4h2.8M404.4,199.0v2.8M405.2,206.5h2.8M406.6,205.1v2.8M407.4,211.8h2.8M408.8,210.4v2.8M409.5,216.9h2.8M410.9,215.5v2.8M411.7,221.9h2.8M413.1,220.5v2.8M413.8,226.9h2.8M415.2,225.5v2.8M416.0,231.8h2.8M417.4,230.4v2.8M418.2,236.7h2.8M419.6,235.3v2.8M420.3,241.2h2.8M421.7,239.8v2.8M422.5,245.2h2.8M423.9,243.8v2.8M424.6,249.6h2.8M426.0,248.2v2.8M426.8,253.3h2.8M428.2,251.9v2.8M428.9,256.2h2.8M430.3,254.8v2.8M431.1,258.9h2.8M432.5,257.5v2.8M433.3,261.4h2.8M434.7,260.0v2.8M435.4,263.9h2.8M436.8,262.5v2.8M437.6,266.3h2.8M439.0,264.9v2.8M439.7,268.8h2.8M441.1,267.4v2.8M441.9,271.3h2.8M443.3,269.9v2.8M444.0,273.9h2.8M445.4,272.5v2.8M446.2,276.5h2.8M447.6,275.1v2.8M448.4,279.0h2.8M449.8,277.6v2.8M450.5,281.6h2.8M451.9,280.2v2.8M452.7,284.0h2.8M454.1,282.6v2.8M454.8,286.3h2.8M456.2,284.9v2.8M457.0,288.5h2.8M458.4,287.1v2.8M459.1,290.7h2.8M460.5,289.3v2.8M461.3,292.8h2.8M462.7,291.4v2.8M463.5,294.8h2.8M464.9,293.4v2.8M465.6,296.9h2.8M467.0,295.5v2.8M467.8,298.9h2.8M469.2,297.5v2.8M469.9,300.2h2.8M471.3,298.8v2.8M472.1,301.8h2.8M473.5,300.4v2.8M474.2,303.3h2.8M475.6,301.9v2.8M476.4,304.8h2.8M477.8,303.4v2.8M478.6,306.2h2.8M480.0,304.8v2.8M480.7,307.5h2.8M482.1,306.1v2.8M482.9,308.8h2.8M484.3,307.4v2.8M485.0,310.1h2.8M486.4,308.7v2.8M487.2,311.2h2.8M488.6,309.8v2.8M489.4,312.4h2.8M490.8,311.0v2.8M491.5,313.5h2.8M492.9,312.1v2.8M493.7,314.5h2.8M495.1,313.1v2.8M495.8,315.5h2.8M497.2,314.1v2.8M498.0,316.5h2.8M499.4,315.1v2.8M500.1,317.4h2.8M501.5,316.0v2.8M502.3,318.3h2.8M503.7,316.9v2.8M504.5,319.2h2.8M505.9,317.8v2.8M506.6,320.0h2.8M508.0,318.6v2.8M508.8,320.8h2.8M510.2,319.4v2.8M510.9,321.5h2.8M512.3,320.1v2.8M513.1,322.3h2.8M514.5,320.9v2.8M515.2,323.0h2.8M516.6,321.6v2.8M517.4,323.6h2.8M518.8,322.2v2.8M519.6,324.3h2.8M521.0,322.9v2.8M521.7,324.9h2.8M523.1,323.5v2.8M523.9,325.5h2.8M525.3,324.1v2.8M526.0,326.1h2.8M527.4,324.7v2.8M528.2,326.6h2.8M529.6,325.2v2.8M530.3,327.2h2.8M531.7,325.8v2.8M532.5,327.7h2.8M533.9,326.3v2.8M534.7,328.2h2.8M536.1,326.8v2.8M536.8,328.6h2.8M538.2,327.2v2.8M539.0,329.1h2.8M540.4,327.7v2.8M541.1,329.5h2.8M542.5,328.1v2.8M543.3,329.9h2.8M544.7,328.5v2.8M545.5,330.4h2.8M546.9,329.0v2.8M547.6,330.7h2.8M549.0,329.3v2.8M549.8,331.1h2.8M551.2,329.7v2.8M551.9,331.5h2.8M553.3,330.1v2.8M554.1,331.8h2.8M555.5,330.4v2.8M556.2,332.2h2.8M557.6,330.8v2.8M558.4,332.5h2.8M559.8,331.1v2.8M560.6,332.8h2.8M562.0,331.4v2.8M562.7,333.1h2.8M564.1,331.7v2.8M564.9,333.4h2.8M566.3,332.0v2.8M567.0,333.7h2.8M568.4,332.3v2.8M569.2,334.0h2.8M570.6,332.6v2.8M571.3,334.2h2.8M572.7,332.8v2.8M573.5,334.5h2.8M574.9,333.1v2.8M575.7,334.7h2.8M577.1,333.3v2.8M577.8,335.0h2.8M579.2,333.6v2.8M580.0,335.2h2.8M581.4,333.8v2.8M582.1,335.4h2.8M583.5,334.0v2.8M584.3,335.6h2.8M585.7,334.2v2.8M586.4,335.8h2.8M587.8,334.4v2.8M588.6,336.0h2.8M590.0,334.6v2.8M590.8,336.2h2.8M592.2,334.8v2.8M592.9,336.4h2.8M594.3,335.0v2.8M595.1,336.6h2.8M596.5,335.2v2.8M597.2,336.8h2.8M598.6,335.4v2.8M599.4,336.9h2.8M600.8,335.5v2.8M601.6,337.1h2.8M603.0,335.7v2.8M603.7,337.3h2.8M605.1,335.9v2.8M605.9,337.4h2.8M607.3,336.0v2.8M608.0,337.6h2.8M609.4,336.2v2.8M610.2,337.7h2.8M611.6,336.3v2.8M612.3,337.9h2.8M613.7,336.5v2.8M614.5,338.0h2.8M615.9,336.6v2.8M616.7,338.1h2.8M618.1,336.7v2.8M618.8,338.3h2.8M620.2,336.9v2.8M621.0,338.4h2.8M622.4,337.0v2.8M623.1,338.5h2.8M624.5,337.1v2.8M625.3,338.7h2.8M626.7,337.3v2.8M627.4,338.8h2.8M628.8,337.4v2.8M629.6,338.9h2.8M631.0,337.5v2.8M631.8,339.0h2.8M633.2,337.6v2.8M633.9,339.1h2.8M635.3,337.7v2.8M636.1,339.2h2.8M637.5,337.8v2.8M638.2,339.3h2.8M639.6,337.9v2.8M640.4,339.4h2.8M641.8,338.0v2.8M642.5,339.5h2.8M643.9,338.1v2.8M644.7,339.6h2.8M646.1,338.2v2.8M646.9,339.7h2.8M648.3,338.3v2.8M649.0,339.8h2.8M650.4,338.4v2.8M651.2,339.9h2.8M652.6,338.5v2.8M653.3,340.0h2.8M654.7,338.6v2.8M655.5,340.1h2.8M656.9,338.7v2.8M657.7,340.2h2.8M659.1,338.8v2.8M659.8,340.3h2.8M661.2,338.9v2.8M662.0,340.4h2.8M663.4,339.0v2.8M664.1,340.4h2.8M665.5,339.0v2.8M666.3,340.5h2.8M667.7,339.1v2.8M668.4,340.6h2.8M669.8,339.2v2.8M670.6,340.7h2.8M672.0,339.3v2.8M672.8,340.8h2.8M674.2,339.4v2.8M674.9,340.8h2.8M676.3,339.4v2.8M677.1,340.9h2.8M678.5,339.5v2.8M679.2,341.0h2.8M680.6,339.6v2.8M681.4,341.1h2.8M682.8,339.7v2.8M683.5,341.1h2.8M684.9,339.7v2.8M685.7,341.2h2.8M687.1,339.8v2.8M687.9,341.3h2.8M689.3,339.9v2.8M690.0,341.3h2.8M691.4,339.9v2.8M692.2,341.4h2.8M693.6,340.0v2.8M694.3,341.5h2.8M695.7,340.1v2.8M696.5,341.5h2.8M697.9,340.1v2.8M698.6,341.6h2.8M700.0,340.2v2.8M700.8,341.7h2.8M702.2,340.3v2.8M703.0,341.7h2.8M704.4,340.3v2.8M705.1,341.8h2.8M706.5,340.4v2.8M707.3,341.9h2.8M708.7,340.5v2.8M709.4,341.9h2.8M710.8,340.5v2.8M711.6,342.0h2.8M713.0,340.6v2.8M713.8,342.1h2.8M715.2,340.7v2.8M715.9,342.1h2.8M717.3,340.7v2.8M718.1,342.2h2.8M719.5,340.8v2.8M720.2,342.2h2.8M721.6,340.8v2.8M722.4,342.3h2.8M723.8,340.9v2.8M724.5,342.4h2.8M725.9,341.0v2.8M726.7,342.4h2.8M728.1,341.0v2.8M728.9,342.5h2.8M730.3,341.1v2.8M731.0,342.5h2.8M732.4,341.1v2.8M733.2,342.6h2.8M734.6,341.2v2.8M735.3,342.6h2.8M736.7,341.2v2.8M737.5,342.7h2.8M738.9,341.3v2.8M739.6,342.8h2.8M741.0,341.4v2.8M741.8,342.8h2.8M743.2,341.4v2.8" fill="none" stroke="#000038" stroke-width="0.9"/>
<g stroke="#000" stroke-width="2.50" fill="none" stroke-linecap="butt">
<path d="M95.90,5.17 V396.60"/>
<path d="M85.40,388.20 H744.45"/>
<path d="M90.40,365.13 H95.90"/>
<path d="M85.40,342.70 H95.90"/>
<path d="M90.40,320.26 H95.90"/>
<path d="M85.40,297.83 H95.90"/>
<path d="M90.40,275.39 H95.90"/>
<path d="M85.40,252.96 H95.90"/>
<path d="M90.40,230.52 H95.90"/>
<path d="M85.40,208.09 H95.90"/>
<path d="M90.40,185.65 H95.90"/>
<path d="M85.40,163.22 H95.90"/>
<path d="M90.40,140.78 H95.90"/>
<path d="M85.40,118.35 H95.90"/>
<path d="M90.40,95.91 H95.90"/>
<path d="M85.40,73.48 H95.90"/>
<path d="M90.40,51.04 H95.90"/>
<path d="M85.40,28.61 H95.90"/>
<path d="M90.40,6.17 H95.90"/>
<path d="M149.84,388.20 V392.80"/>
<path d="M203.78,388.20 V396.60"/>
<path d="M257.73,388.20 V392.80"/>
<path d="M311.67,388.20 V396.60"/>
<path d="M365.61,388.20 V392.80"/>
<path d="M419.55,388.20 V396.60"/>
<path d="M473.49,388.20 V392.80"/>
<path d="M527.43,388.20 V396.60"/>
<path d="M581.38,388.20 V392.80"/>
<path d="M635.32,388.20 V396.60"/>
<path d="M689.26,388.20 V392.80"/>
<path d="M743.20,388.20 V396.60"/>
</g>
<g style="font-family:&quot;Liberation Sans&quot;,sans-serif;font-weight:bold;font-size:14.5px" fill="#000">
<text transform="translate(79.20,390.97) scale(1.310,1)" text-anchor="end">-10</text>
<text transform="translate(79.20,346.10) scale(1.310,1)" text-anchor="end">0</text>
<text transform="translate(79.20,301.23) scale(1.310,1)" text-anchor="end">10</text>
<text transform="translate(79.20,256.36) scale(1.310,1)" text-anchor="end">20</text>
<text transform="translate(79.20,211.49) scale(1.310,1)" text-anchor="end">30</text>
<text transform="translate(79.20,166.62) scale(1.310,1)" text-anchor="end">40</text>
<text transform="translate(79.20,121.75) scale(1.310,1)" text-anchor="end">50</text>
<text transform="translate(79.20,76.88) scale(1.310,1)" text-anchor="end">60</text>
<text transform="translate(79.20,32.01) scale(1.310,1)" text-anchor="end">70</text>
<text transform="translate(95.90,412.30) scale(1.310,1)" text-anchor="middle">250</text>
<text transform="translate(203.78,412.30) scale(1.310,1)" text-anchor="middle">300</text>
<text transform="translate(311.67,412.30) scale(1.310,1)" text-anchor="middle">350</text>
<text transform="translate(419.55,412.30) scale(1.310,1)" text-anchor="middle">400</text>
<text transform="translate(527.43,412.30) scale(1.310,1)" text-anchor="middle">450</text>
<text transform="translate(635.32,412.30) scale(1.310,1)" text-anchor="middle">500</text>
<text transform="translate(743.20,412.30) scale(1.310,1)" text-anchor="middle">550</text>
</g>
<text transform="translate(297.4,446.8) scale(1.19,1)" style="font-family:&quot;Liberation Sans&quot;,sans-serif;font-size:21.6px" fill="#000">Crank Angle (degree)</text>
<text transform="translate(23.9,329.2) rotate(-90) scale(1.0,1.27)" style="font-family:&quot;Liberation Sans&quot;,sans-serif;font-size:20.5px" fill="#000">In-Cylinder Pressure (bar)</text>
<rect x="470.50" y="112.50" width="217.20" height="158.80" fill="#fff"/>
<path d="M470.5,112.4 H686" stroke="#e8e8e8" stroke-width="1"/>
<path d="M687.8,112.0 V272.4" stroke="#666" stroke-width="1.4"/>
<path d="M470.0,271.9 H688.5" stroke="#777" stroke-width="1.3"/>
<path d="M470.5,112.4 V272.4" stroke="#222" stroke-width="1.1"/>
<path d="M483.8,131.30 H537.9" stroke="#000000" stroke-width="1.8"/>
<circle cx="510.8" cy="131.80" r="1.6" fill="#000000"/>
<text transform="translate(543.6,137.90) scale(1.285,1)" style="font-family:&quot;Liberation Serif&quot;,serif;font-size:20.2px" fill="#000">Diesel</text>
<path d="M483.8,157.20 H537.9" stroke="#a82a2a" stroke-width="1.8"/>
<circle cx="510.8" cy="157.70" r="1.6" fill="#a82a2a"/>
<text transform="translate(543.6,163.80) scale(1.285,1)" style="font-family:&quot;Liberation Serif&quot;,serif;font-size:20.2px" fill="#000">SMME15</text>
<path d="M483.8,183.10 H537.9" stroke="#141470" stroke-width="1.8"/>
<circle cx="510.8" cy="183.60" r="1.6" fill="#141470"/>
<text transform="translate(543.6,189.70) scale(1.285,1)" style="font-family:&quot;Liberation Serif&quot;,serif;font-size:20.2px" fill="#000">TF</text>
<path d="M483.8,209.00 H537.9" stroke="#a424b4" stroke-width="1.8"/>
<circle cx="510.8" cy="209.50" r="1.6" fill="#a424b4"/>
<text transform="translate(543.6,215.60) scale(1.285,1)" style="font-family:&quot;Liberation Serif&quot;,serif;font-size:20.2px" fill="#000">TFSi30 mg/L</text>
<path d="M483.8,234.90 H537.9" stroke="#1e6e1e" stroke-width="1.8"/>
<circle cx="510.8" cy="235.40" r="1.6" fill="#1e6e1e"/>
<text transform="translate(543.6,241.50) scale(1.285,1)" style="font-family:&quot;Liberation Serif&quot;,serif;font-size:20.2px" fill="#000">TFSi60 mg/L</text>
<path d="M483.8,260.80 H537.9" stroke="#1a1a40" stroke-width="1.8"/>
<circle cx="510.8" cy="261.30" r="1.6" fill="#1a1a40"/>
<text transform="translate(543.6,267.40) scale(1.285,1)" style="font-family:&quot;Liberation Serif&quot;,serif;font-size:20.2px" fill="#000">TFSi90 mg/L</text>
</svg>
</body></html>
